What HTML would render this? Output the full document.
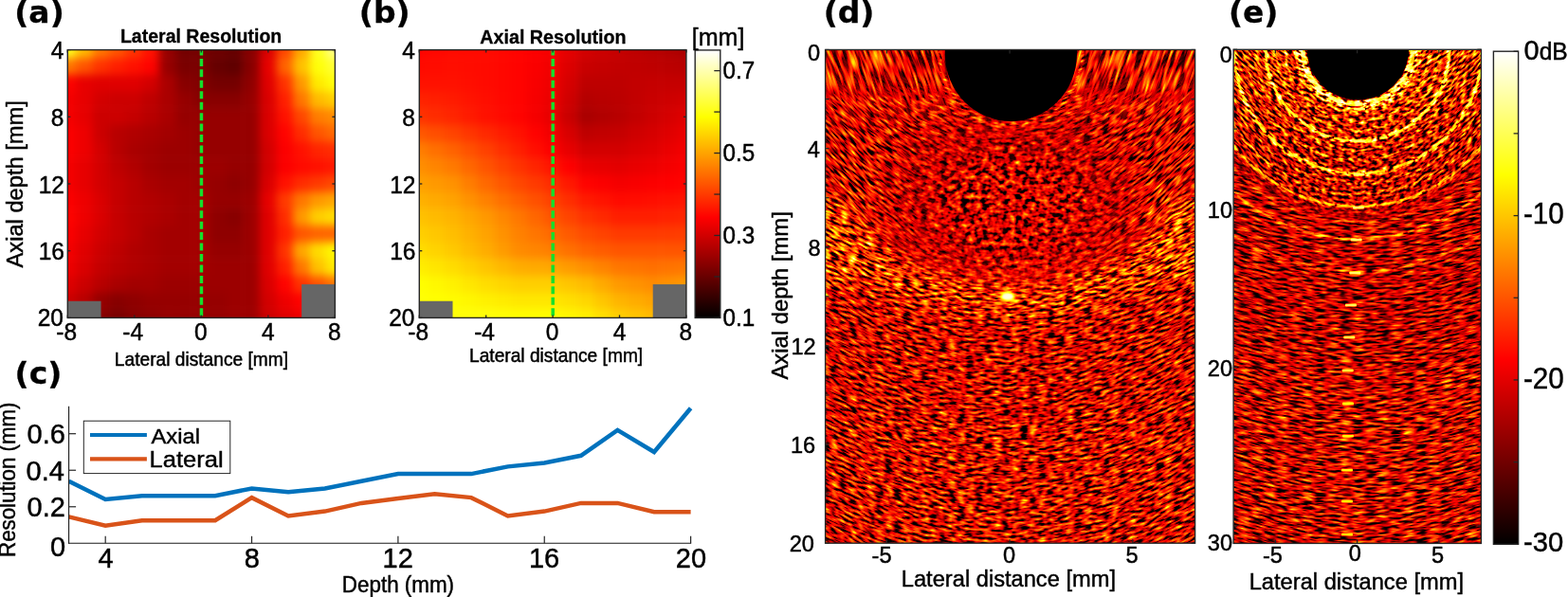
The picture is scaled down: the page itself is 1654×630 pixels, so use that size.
<!DOCTYPE html>
<html><head><meta charset="utf-8"><title>Resolution figure</title>
<style>html,body{margin:0;padding:0;background:#fff;overflow:hidden}svg{display:block}</style>
</head><body>
<svg width="1654" height="630" viewBox="0 0 1654 630"><defs><clipPath id="clipa"><rect x="71.30" y="52.60" width="282.10" height="282.80"/></clipPath><filter id="blura" x="31.30" y="12.60" width="362.10" height="362.80" filterUnits="userSpaceOnUse" color-interpolation-filters="sRGB"><feGaussianBlur stdDeviation="4.6"/></filter><clipPath id="clipb"><rect x="442.30" y="52.60" width="281.60" height="282.80"/></clipPath><filter id="blurb" x="402.30" y="12.60" width="361.60" height="362.80" filterUnits="userSpaceOnUse" color-interpolation-filters="sRGB"><feGaussianBlur stdDeviation="4.6"/></filter><linearGradient id="hotg" x1="0" y1="1" x2="0" y2="0"><stop offset="0" stop-color="#000"/><stop offset="0.375" stop-color="#f00"/><stop offset="0.75" stop-color="#ff0"/><stop offset="1" stop-color="#fff"/></linearGradient><clipPath id="clipc"><rect x="72.60" y="418.80" width="659.00" height="154.50"/></clipPath><filter id="bl8" x="-30%" y="-30%" width="160%" height="160%"><feGaussianBlur stdDeviation="14"/></filter><filter id="bl05" x="-50%" y="-50%" width="200%" height="200%"><feGaussianBlur stdDeviation="0.5"/></filter><filter id="bl1" x="-50%" y="-50%" width="200%" height="200%"><feGaussianBlur stdDeviation="0.8"/></filter><filter id="bl2" x="-50%" y="-50%" width="200%" height="200%"><feGaussianBlur stdDeviation="1.5"/></filter><filter id="fdB" x="770.6" y="-37.5" width="590.0" height="700.7" filterUnits="userSpaceOnUse" color-interpolation-filters="sRGB"><feTurbulence type="fractalNoise" baseFrequency="0.28 0.04" numOctaves="2" seed="5" result="t"/><feColorMatrix in="t" type="matrix" values="1 0 0 0 0 1 0 0 0 0 1 0 0 0 0 0 0 0 0 1" result="n"/><feComponentTransfer in="n" result="nc"><feFuncR type="table" tableValues="0 0 0 0 0 0 0.08 0.24 0.35 0.42 0.48 0.54 0.61 0.69 0.79 0.9 1"/><feFuncG type="table" tableValues="0 0 0 0 0 0 0.08 0.24 0.35 0.42 0.48 0.54 0.61 0.69 0.79 0.9 1"/><feFuncB type="table" tableValues="0 0 0 0 0 0 0.08 0.24 0.35 0.42 0.48 0.54 0.61 0.69 0.79 0.9 1"/></feComponentTransfer><feColorMatrix in="SourceGraphic" type="matrix" values="1 0 0 0 0 1 0 0 0 0 1 0 0 0 0 0 0 0 0 1" result="e"/><feComposite in="e" in2="nc" operator="arithmetic" k1="2.5" k2="0" k3="0" k4="0"/></filter><filter id="hmd" x="870.6" y="52.5" width="390.0" height="520.7" filterUnits="userSpaceOnUse" color-interpolation-filters="sRGB"><feComponentTransfer><feFuncR type="table" tableValues="0.000 0.083 0.167 0.250 0.333 0.417 0.500 0.583 0.667 0.750 0.833 0.917 1.000 1.000 1.000 1.000 1.000 1.000 1.000 1.000 1.000 1.000 1.000 1.000 1.000 1.000 1.000 1.000 1.000 1.000 1.000 1.000 1.000"/><feFuncG type="table" tableValues="0.000 0.000 0.000 0.000 0.000 0.000 0.000 0.000 0.000 0.000 0.000 0.000 0.000 0.083 0.167 0.250 0.333 0.417 0.500 0.583 0.667 0.750 0.833 0.917 1.000 1.000 1.000 1.000 1.000 1.000 1.000 1.000 1.000"/><feFuncB type="table" tableValues="0.000 0.000 0.000 0.000 0.000 0.000 0.000 0.000 0.000 0.000 0.000 0.000 0.000 0.000 0.000 0.000 0.000 0.000 0.000 0.000 0.000 0.000 0.000 0.000 0.000 0.125 0.250 0.375 0.500 0.625 0.750 0.875 1.000"/></feComponentTransfer></filter><clipPath id="clipd"><rect x="870.60" y="52.50" width="390.00" height="520.70"/></clipPath><linearGradient id="fadeInD" gradientUnits="userSpaceOnUse" x1="0" y1="52" x2="0" y2="140"><stop offset="0" stop-color="rgb(15,255,255)"/><stop offset="0.45" stop-color="rgb(50,255,255)"/><stop offset="1" stop-color="rgb(255,255,255)"/></linearGradient><g id="envd"><rect x="850.6" y="-137.5" width="430.0" height="900.7" fill="rgb(102,0,0)"/><g filter="url(#bl8)" style="mix-blend-mode:darken"><ellipse cx="1066.4" cy="205.0" rx="125" ry="90" fill="rgb(97,255,255)"/></g><rect x="850.6" y="-137.5" width="430.0" height="240.0" fill="url(#fadeInD)" style="mix-blend-mode:darken"/><g filter="url(#bl8)" style="mix-blend-mode:lighten"><circle cx="1066.4" cy="-38.0" r="350" fill="none" stroke="rgb(138,0,0)" stroke-width="34"/></g><g filter="url(#bl2)" style="mix-blend-mode:lighten"><ellipse cx="1066.4" cy="57.0" rx="75" ry="76" fill="none" stroke="rgb(128,0,0)" stroke-width="5"/></g><g filter="url(#bl8)" style="mix-blend-mode:lighten"><circle cx="875" cy="255" r="48" fill="rgb(140,0,0)"/><circle cx="1257" cy="250" r="48" fill="rgb(140,0,0)"/><rect x="870" y="440" width="392" height="140" fill="rgb(107,0,0)"/></g></g><radialGradient id="b1dg" gradientUnits="userSpaceOnUse" cx="1066.4" cy="57.0" r="247"><stop offset="0" stop-color="#fff"/><stop offset="0.9" stop-color="#fff"/><stop offset="1" stop-color="#000"/></radialGradient><mask id="band1d" maskUnits="userSpaceOnUse" x="870.6" y="52.5" width="390.0" height="520.7"><rect x="870.6" y="52.5" width="390.0" height="520.7" fill="url(#b1dg)"/></mask><filter id="sfd0" x="865.6" y="75.2" width="57.0" height="554.9" filterUnits="userSpaceOnUse" color-interpolation-filters="sRGB"><feTurbulence type="fractalNoise" baseFrequency="0.105 0.35" numOctaves="2" seed="11" result="t"/><feColorMatrix in="t" type="matrix" values="1 0 0 0 0 1 0 0 0 0 1 0 0 0 0 0 0 0 0 1" result="n"/><feComponentTransfer in="n" result="nc"><feFuncR type="table" tableValues="0 0 0 0 0 0 0.08 0.24 0.35 0.42 0.48 0.54 0.61 0.69 0.79 0.9 1"/><feFuncG type="table" tableValues="0 0 0 0 0 0 0.08 0.24 0.35 0.42 0.48 0.54 0.61 0.69 0.79 0.9 1"/><feFuncB type="table" tableValues="0 0 0 0 0 0 0.08 0.24 0.35 0.42 0.48 0.54 0.61 0.69 0.79 0.9 1"/></feComponentTransfer><feColorMatrix in="SourceGraphic" type="matrix" values="1 0 0 0 0 1 0 0 0 0 1 0 0 0 0 0 0 0 0 1" result="e"/><feComposite in="e" in2="nc" operator="arithmetic" k1="2.5" k2="0" k3="0" k4="0"/></filter><clipPath id="scd0"><rect x="869.60" y="52.50" width="49.50" height="520.70"/></clipPath><filter id="sfd1" x="914.6" y="59.3" width="57.0" height="548.6" filterUnits="userSpaceOnUse" color-interpolation-filters="sRGB"><feTurbulence type="fractalNoise" baseFrequency="0.105 0.35" numOctaves="2" seed="11" result="t"/><feColorMatrix in="t" type="matrix" values="1 0 0 0 0 1 0 0 0 0 1 0 0 0 0 0 0 0 0 1" result="n"/><feComponentTransfer in="n" result="nc"><feFuncR type="table" tableValues="0 0 0 0 0 0 0.08 0.24 0.35 0.42 0.48 0.54 0.61 0.69 0.79 0.9 1"/><feFuncG type="table" tableValues="0 0 0 0 0 0 0.08 0.24 0.35 0.42 0.48 0.54 0.61 0.69 0.79 0.9 1"/><feFuncB type="table" tableValues="0 0 0 0 0 0 0.08 0.24 0.35 0.42 0.48 0.54 0.61 0.69 0.79 0.9 1"/></feComponentTransfer><feColorMatrix in="SourceGraphic" type="matrix" values="1 0 0 0 0 1 0 0 0 0 1 0 0 0 0 0 0 0 0 1" result="e"/><feComposite in="e" in2="nc" operator="arithmetic" k1="2.5" k2="0" k3="0" k4="0"/></filter><clipPath id="scd1"><rect x="918.10" y="52.50" width="50.00" height="520.70"/></clipPath><filter id="sfd2" x="963.6" y="49.8" width="57.0" height="542.3" filterUnits="userSpaceOnUse" color-interpolation-filters="sRGB"><feTurbulence type="fractalNoise" baseFrequency="0.105 0.35" numOctaves="2" seed="11" result="t"/><feColorMatrix in="t" type="matrix" values="1 0 0 0 0 1 0 0 0 0 1 0 0 0 0 0 0 0 0 1" result="n"/><feComponentTransfer in="n" result="nc"><feFuncR type="table" tableValues="0 0 0 0 0 0 0.08 0.24 0.35 0.42 0.48 0.54 0.61 0.69 0.79 0.9 1"/><feFuncG type="table" tableValues="0 0 0 0 0 0 0.08 0.24 0.35 0.42 0.48 0.54 0.61 0.69 0.79 0.9 1"/><feFuncB type="table" tableValues="0 0 0 0 0 0 0.08 0.24 0.35 0.42 0.48 0.54 0.61 0.69 0.79 0.9 1"/></feComponentTransfer><feColorMatrix in="SourceGraphic" type="matrix" values="1 0 0 0 0 1 0 0 0 0 1 0 0 0 0 0 0 0 0 1" result="e"/><feComposite in="e" in2="nc" operator="arithmetic" k1="2.5" k2="0" k3="0" k4="0"/></filter><clipPath id="scd2"><rect x="967.10" y="52.50" width="50.00" height="520.70"/></clipPath><filter id="sfd3" x="1012.6" y="46.5" width="57.0" height="536.0" filterUnits="userSpaceOnUse" color-interpolation-filters="sRGB"><feTurbulence type="fractalNoise" baseFrequency="0.105 0.35" numOctaves="2" seed="11" result="t"/><feColorMatrix in="t" type="matrix" values="1 0 0 0 0 1 0 0 0 0 1 0 0 0 0 0 0 0 0 1" result="n"/><feComponentTransfer in="n" result="nc"><feFuncR type="table" tableValues="0 0 0 0 0 0 0.08 0.24 0.35 0.42 0.48 0.54 0.61 0.69 0.79 0.9 1"/><feFuncG type="table" tableValues="0 0 0 0 0 0 0.08 0.24 0.35 0.42 0.48 0.54 0.61 0.69 0.79 0.9 1"/><feFuncB type="table" tableValues="0 0 0 0 0 0 0.08 0.24 0.35 0.42 0.48 0.54 0.61 0.69 0.79 0.9 1"/></feComponentTransfer><feColorMatrix in="SourceGraphic" type="matrix" values="1 0 0 0 0 1 0 0 0 0 1 0 0 0 0 0 0 0 0 1" result="e"/><feComposite in="e" in2="nc" operator="arithmetic" k1="2.5" k2="0" k3="0" k4="0"/></filter><clipPath id="scd3"><rect x="1016.10" y="52.50" width="50.00" height="520.70"/></clipPath><filter id="sfd4" x="1061.6" y="46.5" width="57.0" height="535.8" filterUnits="userSpaceOnUse" color-interpolation-filters="sRGB"><feTurbulence type="fractalNoise" baseFrequency="0.105 0.35" numOctaves="2" seed="11" result="t"/><feColorMatrix in="t" type="matrix" values="1 0 0 0 0 1 0 0 0 0 1 0 0 0 0 0 0 0 0 1" result="n"/><feComponentTransfer in="n" result="nc"><feFuncR type="table" tableValues="0 0 0 0 0 0 0.08 0.24 0.35 0.42 0.48 0.54 0.61 0.69 0.79 0.9 1"/><feFuncG type="table" tableValues="0 0 0 0 0 0 0.08 0.24 0.35 0.42 0.48 0.54 0.61 0.69 0.79 0.9 1"/><feFuncB type="table" tableValues="0 0 0 0 0 0 0.08 0.24 0.35 0.42 0.48 0.54 0.61 0.69 0.79 0.9 1"/></feComponentTransfer><feColorMatrix in="SourceGraphic" type="matrix" values="1 0 0 0 0 1 0 0 0 0 1 0 0 0 0 0 0 0 0 1" result="e"/><feComposite in="e" in2="nc" operator="arithmetic" k1="2.5" k2="0" k3="0" k4="0"/></filter><clipPath id="scd4"><rect x="1065.10" y="52.50" width="50.00" height="520.70"/></clipPath><filter id="sfd5" x="1110.6" y="49.6" width="57.0" height="542.1" filterUnits="userSpaceOnUse" color-interpolation-filters="sRGB"><feTurbulence type="fractalNoise" baseFrequency="0.105 0.35" numOctaves="2" seed="11" result="t"/><feColorMatrix in="t" type="matrix" values="1 0 0 0 0 1 0 0 0 0 1 0 0 0 0 0 0 0 0 1" result="n"/><feComponentTransfer in="n" result="nc"><feFuncR type="table" tableValues="0 0 0 0 0 0 0.08 0.24 0.35 0.42 0.48 0.54 0.61 0.69 0.79 0.9 1"/><feFuncG type="table" tableValues="0 0 0 0 0 0 0.08 0.24 0.35 0.42 0.48 0.54 0.61 0.69 0.79 0.9 1"/><feFuncB type="table" tableValues="0 0 0 0 0 0 0.08 0.24 0.35 0.42 0.48 0.54 0.61 0.69 0.79 0.9 1"/></feComponentTransfer><feColorMatrix in="SourceGraphic" type="matrix" values="1 0 0 0 0 1 0 0 0 0 1 0 0 0 0 0 0 0 0 1" result="e"/><feComposite in="e" in2="nc" operator="arithmetic" k1="2.5" k2="0" k3="0" k4="0"/></filter><clipPath id="scd5"><rect x="1114.10" y="52.50" width="50.00" height="520.70"/></clipPath><filter id="sfd6" x="1159.6" y="58.9" width="57.0" height="548.4" filterUnits="userSpaceOnUse" color-interpolation-filters="sRGB"><feTurbulence type="fractalNoise" baseFrequency="0.105 0.35" numOctaves="2" seed="11" result="t"/><feColorMatrix in="t" type="matrix" values="1 0 0 0 0 1 0 0 0 0 1 0 0 0 0 0 0 0 0 1" result="n"/><feComponentTransfer in="n" result="nc"><feFuncR type="table" tableValues="0 0 0 0 0 0 0.08 0.24 0.35 0.42 0.48 0.54 0.61 0.69 0.79 0.9 1"/><feFuncG type="table" tableValues="0 0 0 0 0 0 0.08 0.24 0.35 0.42 0.48 0.54 0.61 0.69 0.79 0.9 1"/><feFuncB type="table" tableValues="0 0 0 0 0 0 0.08 0.24 0.35 0.42 0.48 0.54 0.61 0.69 0.79 0.9 1"/></feComponentTransfer><feColorMatrix in="SourceGraphic" type="matrix" values="1 0 0 0 0 1 0 0 0 0 1 0 0 0 0 0 0 0 0 1" result="e"/><feComposite in="e" in2="nc" operator="arithmetic" k1="2.5" k2="0" k3="0" k4="0"/></filter><clipPath id="scd6"><rect x="1163.10" y="52.50" width="50.00" height="520.70"/></clipPath><filter id="sfd7" x="1208.6" y="74.6" width="57.0" height="554.7" filterUnits="userSpaceOnUse" color-interpolation-filters="sRGB"><feTurbulence type="fractalNoise" baseFrequency="0.105 0.35" numOctaves="2" seed="11" result="t"/><feColorMatrix in="t" type="matrix" values="1 0 0 0 0 1 0 0 0 0 1 0 0 0 0 0 0 0 0 1" result="n"/><feComponentTransfer in="n" result="nc"><feFuncR type="table" tableValues="0 0 0 0 0 0 0.08 0.24 0.35 0.42 0.48 0.54 0.61 0.69 0.79 0.9 1"/><feFuncG type="table" tableValues="0 0 0 0 0 0 0.08 0.24 0.35 0.42 0.48 0.54 0.61 0.69 0.79 0.9 1"/><feFuncB type="table" tableValues="0 0 0 0 0 0 0.08 0.24 0.35 0.42 0.48 0.54 0.61 0.69 0.79 0.9 1"/></feComponentTransfer><feColorMatrix in="SourceGraphic" type="matrix" values="1 0 0 0 0 1 0 0 0 0 1 0 0 0 0 0 0 0 0 1" result="e"/><feComposite in="e" in2="nc" operator="arithmetic" k1="2.5" k2="0" k3="0" k4="0"/></filter><clipPath id="scd7"><rect x="1212.10" y="52.50" width="49.50" height="520.70"/></clipPath><filter id="sfD0" x="865.6" y="104.0" width="57.0" height="577.1" filterUnits="userSpaceOnUse" color-interpolation-filters="sRGB"><feTurbulence type="fractalNoise" baseFrequency="0.105 0.35" numOctaves="2" seed="13" result="t"/><feColorMatrix in="t" type="matrix" values="1 0 0 0 0 1 0 0 0 0 1 0 0 0 0 0 0 0 0 1" result="n"/><feComponentTransfer in="n" result="nc"><feFuncR type="table" tableValues="0 0 0 0 0 0 0.08 0.24 0.35 0.42 0.48 0.54 0.61 0.69 0.79 0.9 1"/><feFuncG type="table" tableValues="0 0 0 0 0 0 0.08 0.24 0.35 0.42 0.48 0.54 0.61 0.69 0.79 0.9 1"/><feFuncB type="table" tableValues="0 0 0 0 0 0 0.08 0.24 0.35 0.42 0.48 0.54 0.61 0.69 0.79 0.9 1"/></feComponentTransfer><feColorMatrix in="SourceGraphic" type="matrix" values="1 0 0 0 0 1 0 0 0 0 1 0 0 0 0 0 0 0 0 1" result="e"/><feComposite in="e" in2="nc" operator="arithmetic" k1="2.5" k2="0" k3="0" k4="0"/></filter><clipPath id="scD0"><rect x="869.60" y="52.50" width="49.50" height="520.70"/></clipPath><filter id="sfD1" x="914.6" y="72.2" width="57.0" height="564.5" filterUnits="userSpaceOnUse" color-interpolation-filters="sRGB"><feTurbulence type="fractalNoise" baseFrequency="0.105 0.35" numOctaves="2" seed="13" result="t"/><feColorMatrix in="t" type="matrix" values="1 0 0 0 0 1 0 0 0 0 1 0 0 0 0 0 0 0 0 1" result="n"/><feComponentTransfer in="n" result="nc"><feFuncR type="table" tableValues="0 0 0 0 0 0 0.08 0.24 0.35 0.42 0.48 0.54 0.61 0.69 0.79 0.9 1"/><feFuncG type="table" tableValues="0 0 0 0 0 0 0.08 0.24 0.35 0.42 0.48 0.54 0.61 0.69 0.79 0.9 1"/><feFuncB type="table" tableValues="0 0 0 0 0 0 0.08 0.24 0.35 0.42 0.48 0.54 0.61 0.69 0.79 0.9 1"/></feComponentTransfer><feColorMatrix in="SourceGraphic" type="matrix" values="1 0 0 0 0 1 0 0 0 0 1 0 0 0 0 0 0 0 0 1" result="e"/><feComposite in="e" in2="nc" operator="arithmetic" k1="2.5" k2="0" k3="0" k4="0"/></filter><clipPath id="scD1"><rect x="918.10" y="52.50" width="50.00" height="520.70"/></clipPath><filter id="sfD2" x="963.6" y="53.0" width="57.0" height="551.9" filterUnits="userSpaceOnUse" color-interpolation-filters="sRGB"><feTurbulence type="fractalNoise" baseFrequency="0.105 0.35" numOctaves="2" seed="13" result="t"/><feColorMatrix in="t" type="matrix" values="1 0 0 0 0 1 0 0 0 0 1 0 0 0 0 0 0 0 0 1" result="n"/><feComponentTransfer in="n" result="nc"><feFuncR type="table" tableValues="0 0 0 0 0 0 0.08 0.24 0.35 0.42 0.48 0.54 0.61 0.69 0.79 0.9 1"/><feFuncG type="table" tableValues="0 0 0 0 0 0 0.08 0.24 0.35 0.42 0.48 0.54 0.61 0.69 0.79 0.9 1"/><feFuncB type="table" tableValues="0 0 0 0 0 0 0.08 0.24 0.35 0.42 0.48 0.54 0.61 0.69 0.79 0.9 1"/></feComponentTransfer><feColorMatrix in="SourceGraphic" type="matrix" values="1 0 0 0 0 1 0 0 0 0 1 0 0 0 0 0 0 0 0 1" result="e"/><feComposite in="e" in2="nc" operator="arithmetic" k1="2.5" k2="0" k3="0" k4="0"/></filter><clipPath id="scD2"><rect x="967.10" y="52.50" width="50.00" height="520.70"/></clipPath><filter id="sfD3" x="1012.6" y="46.5" width="57.0" height="539.2" filterUnits="userSpaceOnUse" color-interpolation-filters="sRGB"><feTurbulence type="fractalNoise" baseFrequency="0.105 0.35" numOctaves="2" seed="13" result="t"/><feColorMatrix in="t" type="matrix" values="1 0 0 0 0 1 0 0 0 0 1 0 0 0 0 0 0 0 0 1" result="n"/><feComponentTransfer in="n" result="nc"><feFuncR type="table" tableValues="0 0 0 0 0 0 0.08 0.24 0.35 0.42 0.48 0.54 0.61 0.69 0.79 0.9 1"/><feFuncG type="table" tableValues="0 0 0 0 0 0 0.08 0.24 0.35 0.42 0.48 0.54 0.61 0.69 0.79 0.9 1"/><feFuncB type="table" tableValues="0 0 0 0 0 0 0.08 0.24 0.35 0.42 0.48 0.54 0.61 0.69 0.79 0.9 1"/></feComponentTransfer><feColorMatrix in="SourceGraphic" type="matrix" values="1 0 0 0 0 1 0 0 0 0 1 0 0 0 0 0 0 0 0 1" result="e"/><feComposite in="e" in2="nc" operator="arithmetic" k1="2.5" k2="0" k3="0" k4="0"/></filter><clipPath id="scD3"><rect x="1016.10" y="52.50" width="50.00" height="520.70"/></clipPath><filter id="sfD4" x="1061.6" y="46.5" width="57.0" height="538.8" filterUnits="userSpaceOnUse" color-interpolation-filters="sRGB"><feTurbulence type="fractalNoise" baseFrequency="0.105 0.35" numOctaves="2" seed="13" result="t"/><feColorMatrix in="t" type="matrix" values="1 0 0 0 0 1 0 0 0 0 1 0 0 0 0 0 0 0 0 1" result="n"/><feComponentTransfer in="n" result="nc"><feFuncR type="table" tableValues="0 0 0 0 0 0 0.08 0.24 0.35 0.42 0.48 0.54 0.61 0.69 0.79 0.9 1"/><feFuncG type="table" tableValues="0 0 0 0 0 0 0.08 0.24 0.35 0.42 0.48 0.54 0.61 0.69 0.79 0.9 1"/><feFuncB type="table" tableValues="0 0 0 0 0 0 0.08 0.24 0.35 0.42 0.48 0.54 0.61 0.69 0.79 0.9 1"/></feComponentTransfer><feColorMatrix in="SourceGraphic" type="matrix" values="1 0 0 0 0 1 0 0 0 0 1 0 0 0 0 0 0 0 0 1" result="e"/><feComposite in="e" in2="nc" operator="arithmetic" k1="2.5" k2="0" k3="0" k4="0"/></filter><clipPath id="scD4"><rect x="1065.10" y="52.50" width="50.00" height="520.70"/></clipPath><filter id="sfD5" x="1110.6" y="52.6" width="57.0" height="551.4" filterUnits="userSpaceOnUse" color-interpolation-filters="sRGB"><feTurbulence type="fractalNoise" baseFrequency="0.105 0.35" numOctaves="2" seed="13" result="t"/><feColorMatrix in="t" type="matrix" values="1 0 0 0 0 1 0 0 0 0 1 0 0 0 0 0 0 0 0 1" result="n"/><feComponentTransfer in="n" result="nc"><feFuncR type="table" tableValues="0 0 0 0 0 0 0.08 0.24 0.35 0.42 0.48 0.54 0.61 0.69 0.79 0.9 1"/><feFuncG type="table" tableValues="0 0 0 0 0 0 0.08 0.24 0.35 0.42 0.48 0.54 0.61 0.69 0.79 0.9 1"/><feFuncB type="table" tableValues="0 0 0 0 0 0 0.08 0.24 0.35 0.42 0.48 0.54 0.61 0.69 0.79 0.9 1"/></feComponentTransfer><feColorMatrix in="SourceGraphic" type="matrix" values="1 0 0 0 0 1 0 0 0 0 1 0 0 0 0 0 0 0 0 1" result="e"/><feComposite in="e" in2="nc" operator="arithmetic" k1="2.5" k2="0" k3="0" k4="0"/></filter><clipPath id="scD5"><rect x="1114.10" y="52.50" width="50.00" height="520.70"/></clipPath><filter id="sfD6" x="1159.6" y="71.4" width="57.0" height="564.1" filterUnits="userSpaceOnUse" color-interpolation-filters="sRGB"><feTurbulence type="fractalNoise" baseFrequency="0.105 0.35" numOctaves="2" seed="13" result="t"/><feColorMatrix in="t" type="matrix" values="1 0 0 0 0 1 0 0 0 0 1 0 0 0 0 0 0 0 0 1" result="n"/><feComponentTransfer in="n" result="nc"><feFuncR type="table" tableValues="0 0 0 0 0 0 0.08 0.24 0.35 0.42 0.48 0.54 0.61 0.69 0.79 0.9 1"/><feFuncG type="table" tableValues="0 0 0 0 0 0 0.08 0.24 0.35 0.42 0.48 0.54 0.61 0.69 0.79 0.9 1"/><feFuncB type="table" tableValues="0 0 0 0 0 0 0.08 0.24 0.35 0.42 0.48 0.54 0.61 0.69 0.79 0.9 1"/></feComponentTransfer><feColorMatrix in="SourceGraphic" type="matrix" values="1 0 0 0 0 1 0 0 0 0 1 0 0 0 0 0 0 0 0 1" result="e"/><feComposite in="e" in2="nc" operator="arithmetic" k1="2.5" k2="0" k3="0" k4="0"/></filter><clipPath id="scD6"><rect x="1163.10" y="52.50" width="50.00" height="520.70"/></clipPath><filter id="sfD7" x="1208.6" y="102.7" width="57.0" height="576.7" filterUnits="userSpaceOnUse" color-interpolation-filters="sRGB"><feTurbulence type="fractalNoise" baseFrequency="0.105 0.35" numOctaves="2" seed="13" result="t"/><feColorMatrix in="t" type="matrix" values="1 0 0 0 0 1 0 0 0 0 1 0 0 0 0 0 0 0 0 1" result="n"/><feComponentTransfer in="n" result="nc"><feFuncR type="table" tableValues="0 0 0 0 0 0 0.08 0.24 0.35 0.42 0.48 0.54 0.61 0.69 0.79 0.9 1"/><feFuncG type="table" tableValues="0 0 0 0 0 0 0.08 0.24 0.35 0.42 0.48 0.54 0.61 0.69 0.79 0.9 1"/><feFuncB type="table" tableValues="0 0 0 0 0 0 0.08 0.24 0.35 0.42 0.48 0.54 0.61 0.69 0.79 0.9 1"/></feComponentTransfer><feColorMatrix in="SourceGraphic" type="matrix" values="1 0 0 0 0 1 0 0 0 0 1 0 0 0 0 0 0 0 0 1" result="e"/><feComposite in="e" in2="nc" operator="arithmetic" k1="2.5" k2="0" k3="0" k4="0"/></filter><clipPath id="scD7"><rect x="1212.10" y="52.50" width="49.50" height="520.70"/></clipPath><filter id="fdM" x="910.0" y="100.0" width="315.0" height="250.0" filterUnits="userSpaceOnUse" color-interpolation-filters="sRGB"><feTurbulence type="fractalNoise" baseFrequency="0.14 0.2" numOctaves="2" seed="17" result="t"/><feColorMatrix in="t" type="matrix" values="1 0 0 0 0 1 0 0 0 0 1 0 0 0 0 0 0 0 0 1" result="n"/><feComponentTransfer in="n" result="nc"><feFuncR type="table" tableValues="0 0 0 0 0 0 0.08 0.24 0.35 0.42 0.48 0.54 0.61 0.69 0.79 0.9 1"/><feFuncG type="table" tableValues="0 0 0 0 0 0 0.08 0.24 0.35 0.42 0.48 0.54 0.61 0.69 0.79 0.9 1"/><feFuncB type="table" tableValues="0 0 0 0 0 0 0.08 0.24 0.35 0.42 0.48 0.54 0.61 0.69 0.79 0.9 1"/></feComponentTransfer><feColorMatrix in="SourceGraphic" type="matrix" values="1 0 0 0 0 1 0 0 0 0 1 0 0 0 0 0 0 0 0 1" result="e"/><feComposite in="e" in2="nc" operator="arithmetic" k1="2.5" k2="0" k3="0" k4="0"/></filter><radialGradient id="midg" gradientUnits="userSpaceOnUse" cx="1066.4" cy="215" r="150" gradientTransform="translate(1066.4,215) scale(1,0.7) translate(-1066.4,-215)"><stop offset="0" stop-color="#fff"/><stop offset="0.4" stop-color="#eee"/><stop offset="1" stop-color="#000"/></radialGradient><mask id="midD" maskUnits="userSpaceOnUse" x="910" y="100" width="315" height="250"><rect x="910" y="100" width="315" height="250" fill="url(#midg)"/></mask><linearGradient id="fadeOutD" gradientUnits="userSpaceOnUse" x1="0" y1="52" x2="0" y2="145"><stop offset="0" stop-color="rgb(112,0,0)"/><stop offset="0.4" stop-color="rgb(102,0,0)"/><stop offset="1" stop-color="rgb(0,0,0)"/></linearGradient><g id="envdB"><rect x="850.6" y="-37.5" width="430.0" height="700.7" fill="url(#fadeOutD)"/></g><clipPath id="sLd"><rect x="870.6" y="52.5" width="195.8" height="520.7"/></clipPath><clipPath id="sRd"><rect x="1066.4" y="52.5" width="194.2" height="520.7"/></clipPath><filter id="hme" x="1301.1" y="52.3" width="261.3" height="521.1" filterUnits="userSpaceOnUse" color-interpolation-filters="sRGB"><feComponentTransfer><feFuncR type="table" tableValues="0.000 0.083 0.167 0.250 0.333 0.417 0.500 0.583 0.667 0.750 0.833 0.917 1.000 1.000 1.000 1.000 1.000 1.000 1.000 1.000 1.000 1.000 1.000 1.000 1.000 1.000 1.000 1.000 1.000 1.000 1.000 1.000 1.000"/><feFuncG type="table" tableValues="0.000 0.000 0.000 0.000 0.000 0.000 0.000 0.000 0.000 0.000 0.000 0.000 0.000 0.083 0.167 0.250 0.333 0.417 0.500 0.583 0.667 0.750 0.833 0.917 1.000 1.000 1.000 1.000 1.000 1.000 1.000 1.000 1.000"/><feFuncB type="table" tableValues="0.000 0.000 0.000 0.000 0.000 0.000 0.000 0.000 0.000 0.000 0.000 0.000 0.000 0.000 0.000 0.000 0.000 0.000 0.000 0.000 0.000 0.000 0.000 0.000 0.000 0.125 0.250 0.375 0.500 0.625 0.750 0.875 1.000"/></feComponentTransfer></filter><clipPath id="clipe"><rect x="1301.10" y="52.30" width="261.30" height="521.10"/></clipPath><linearGradient id="topE" gradientUnits="userSpaceOnUse" x1="0" y1="52" x2="0" y2="160"><stop offset="0" stop-color="rgb(125,0,0)"/><stop offset="1" stop-color="rgb(94,0,0)"/></linearGradient><g id="enve"><rect x="1281.1" y="-107.7" width="301.3" height="841.1" fill="rgb(94,0,0)"/><rect x="1281.1" y="-7.7" width="301.3" height="220.0" fill="url(#topE)" style="mix-blend-mode:lighten"/><g filter="url(#bl8)" style="mix-blend-mode:lighten"><rect x="1300" y="380" width="265" height="200" fill="rgb(102,0,0)"/></g><g filter="url(#bl1)" style="mix-blend-mode:lighten"><circle cx="1432.4" cy="52.0" r="59" fill="none" stroke="rgb(242,0,0)" stroke-width="8"/><circle cx="1432.4" cy="52.0" r="66" fill="none" stroke="rgb(168,0,0)" stroke-width="4"/><circle cx="1432.4" cy="52.0" r="76" fill="none" stroke="rgb(163,0,0)" stroke-width="4"/><circle cx="1432.4" cy="52.0" r="86" fill="none" stroke="rgb(153,0,0)" stroke-width="4"/><circle cx="1432.4" cy="52.0" r="97" fill="none" stroke="rgb(199,0,0)" stroke-width="5"/><circle cx="1432.4" cy="52.0" r="106" fill="none" stroke="rgb(140,0,0)" stroke-width="4"/><circle cx="1432.4" cy="52.0" r="117" fill="none" stroke="rgb(140,0,0)" stroke-width="4"/><circle cx="1432.4" cy="52.0" r="131" fill="none" stroke="rgb(178,0,0)" stroke-width="5"/><circle cx="1432.4" cy="52.0" r="142" fill="none" stroke="rgb(133,0,0)" stroke-width="4"/><circle cx="1432.4" cy="52.0" r="153" fill="none" stroke="rgb(133,0,0)" stroke-width="4"/><circle cx="1432.4" cy="52.0" r="166" fill="none" stroke="rgb(153,0,0)" stroke-width="4"/><circle cx="1432.4" cy="52.0" r="183" fill="none" stroke="rgb(128,0,0)" stroke-width="3"/><circle cx="1432.4" cy="52.0" r="200" fill="none" stroke="rgb(138,0,0)" stroke-width="4"/><circle cx="1432.4" cy="52.0" r="235" fill="none" stroke="rgb(128,0,0)" stroke-width="3"/></g></g><radialGradient id="b1eg" gradientUnits="userSpaceOnUse" cx="1432.4" cy="52.0" r="185"><stop offset="0" stop-color="#fff"/><stop offset="0.88" stop-color="#fff"/><stop offset="1" stop-color="#000"/></radialGradient><mask id="band1e" maskUnits="userSpaceOnUse" x="1301.1" y="52.3" width="261.3" height="521.1"><rect x="1301.1" y="52.3" width="261.3" height="521.1" fill="url(#b1eg)"/></mask><filter id="sfe0" x="1296.1" y="55.0" width="51.9" height="543.9" filterUnits="userSpaceOnUse" color-interpolation-filters="sRGB"><feTurbulence type="fractalNoise" baseFrequency="0.075 0.42" numOctaves="2" seed="21" result="t"/><feColorMatrix in="t" type="matrix" values="1 0 0 0 0 1 0 0 0 0 1 0 0 0 0 0 0 0 0 1" result="n"/><feComponentTransfer in="n" result="nc"><feFuncR type="table" tableValues="0 0 0 0 0 0 0.04 0.2 0.34 0.42 0.49 0.56 0.63 0.71 0.8 0.9 1"/><feFuncG type="table" tableValues="0 0 0 0 0 0 0.04 0.2 0.34 0.42 0.49 0.56 0.63 0.71 0.8 0.9 1"/><feFuncB type="table" tableValues="0 0 0 0 0 0 0.04 0.2 0.34 0.42 0.49 0.56 0.63 0.71 0.8 0.9 1"/></feComponentTransfer><feColorMatrix in="SourceGraphic" type="matrix" values="1 0 0 0 0 1 0 0 0 0 1 0 0 0 0 0 0 0 0 1" result="e"/><feComposite in="e" in2="nc" operator="arithmetic" k1="2.5" k2="0" k3="0" k4="0"/></filter><clipPath id="sce0"><rect x="1300.10" y="52.30" width="44.38" height="521.10"/></clipPath><filter id="sfe1" x="1340.0" y="48.5" width="51.9" height="539.6" filterUnits="userSpaceOnUse" color-interpolation-filters="sRGB"><feTurbulence type="fractalNoise" baseFrequency="0.075 0.42" numOctaves="2" seed="21" result="t"/><feColorMatrix in="t" type="matrix" values="1 0 0 0 0 1 0 0 0 0 1 0 0 0 0 0 0 0 0 1" result="n"/><feComponentTransfer in="n" result="nc"><feFuncR type="table" tableValues="0 0 0 0 0 0 0.04 0.2 0.34 0.42 0.49 0.56 0.63 0.71 0.8 0.9 1"/><feFuncG type="table" tableValues="0 0 0 0 0 0 0.04 0.2 0.34 0.42 0.49 0.56 0.63 0.71 0.8 0.9 1"/><feFuncB type="table" tableValues="0 0 0 0 0 0 0.04 0.2 0.34 0.42 0.49 0.56 0.63 0.71 0.8 0.9 1"/></feComponentTransfer><feColorMatrix in="SourceGraphic" type="matrix" values="1 0 0 0 0 1 0 0 0 0 1 0 0 0 0 0 0 0 0 1" result="e"/><feComposite in="e" in2="nc" operator="arithmetic" k1="2.5" k2="0" k3="0" k4="0"/></filter><clipPath id="sce1"><rect x="1343.48" y="52.30" width="44.88" height="521.10"/></clipPath><filter id="sfe2" x="1383.9" y="46.3" width="51.9" height="535.3" filterUnits="userSpaceOnUse" color-interpolation-filters="sRGB"><feTurbulence type="fractalNoise" baseFrequency="0.075 0.42" numOctaves="2" seed="21" result="t"/><feColorMatrix in="t" type="matrix" values="1 0 0 0 0 1 0 0 0 0 1 0 0 0 0 0 0 0 0 1" result="n"/><feComponentTransfer in="n" result="nc"><feFuncR type="table" tableValues="0 0 0 0 0 0 0.04 0.2 0.34 0.42 0.49 0.56 0.63 0.71 0.8 0.9 1"/><feFuncG type="table" tableValues="0 0 0 0 0 0 0.04 0.2 0.34 0.42 0.49 0.56 0.63 0.71 0.8 0.9 1"/><feFuncB type="table" tableValues="0 0 0 0 0 0 0.04 0.2 0.34 0.42 0.49 0.56 0.63 0.71 0.8 0.9 1"/></feComponentTransfer><feColorMatrix in="SourceGraphic" type="matrix" values="1 0 0 0 0 1 0 0 0 0 1 0 0 0 0 0 0 0 0 1" result="e"/><feComposite in="e" in2="nc" operator="arithmetic" k1="2.5" k2="0" k3="0" k4="0"/></filter><clipPath id="sce2"><rect x="1387.37" y="52.30" width="44.88" height="521.10"/></clipPath><filter id="sfe3" x="1427.8" y="46.3" width="51.9" height="535.2" filterUnits="userSpaceOnUse" color-interpolation-filters="sRGB"><feTurbulence type="fractalNoise" baseFrequency="0.075 0.42" numOctaves="2" seed="21" result="t"/><feColorMatrix in="t" type="matrix" values="1 0 0 0 0 1 0 0 0 0 1 0 0 0 0 0 0 0 0 1" result="n"/><feComponentTransfer in="n" result="nc"><feFuncR type="table" tableValues="0 0 0 0 0 0 0.04 0.2 0.34 0.42 0.49 0.56 0.63 0.71 0.8 0.9 1"/><feFuncG type="table" tableValues="0 0 0 0 0 0 0.04 0.2 0.34 0.42 0.49 0.56 0.63 0.71 0.8 0.9 1"/><feFuncB type="table" tableValues="0 0 0 0 0 0 0.04 0.2 0.34 0.42 0.49 0.56 0.63 0.71 0.8 0.9 1"/></feComponentTransfer><feColorMatrix in="SourceGraphic" type="matrix" values="1 0 0 0 0 1 0 0 0 0 1 0 0 0 0 0 0 0 0 1" result="e"/><feComposite in="e" in2="nc" operator="arithmetic" k1="2.5" k2="0" k3="0" k4="0"/></filter><clipPath id="sce3"><rect x="1431.25" y="52.30" width="44.88" height="521.10"/></clipPath><filter id="sfe4" x="1471.6" y="48.4" width="51.9" height="539.5" filterUnits="userSpaceOnUse" color-interpolation-filters="sRGB"><feTurbulence type="fractalNoise" baseFrequency="0.075 0.42" numOctaves="2" seed="21" result="t"/><feColorMatrix in="t" type="matrix" values="1 0 0 0 0 1 0 0 0 0 1 0 0 0 0 0 0 0 0 1" result="n"/><feComponentTransfer in="n" result="nc"><feFuncR type="table" tableValues="0 0 0 0 0 0 0.04 0.2 0.34 0.42 0.49 0.56 0.63 0.71 0.8 0.9 1"/><feFuncG type="table" tableValues="0 0 0 0 0 0 0.04 0.2 0.34 0.42 0.49 0.56 0.63 0.71 0.8 0.9 1"/><feFuncB type="table" tableValues="0 0 0 0 0 0 0.04 0.2 0.34 0.42 0.49 0.56 0.63 0.71 0.8 0.9 1"/></feComponentTransfer><feColorMatrix in="SourceGraphic" type="matrix" values="1 0 0 0 0 1 0 0 0 0 1 0 0 0 0 0 0 0 0 1" result="e"/><feComposite in="e" in2="nc" operator="arithmetic" k1="2.5" k2="0" k3="0" k4="0"/></filter><clipPath id="sce4"><rect x="1475.13" y="52.30" width="44.88" height="521.10"/></clipPath><filter id="sfe5" x="1515.5" y="54.7" width="51.9" height="543.7" filterUnits="userSpaceOnUse" color-interpolation-filters="sRGB"><feTurbulence type="fractalNoise" baseFrequency="0.075 0.42" numOctaves="2" seed="21" result="t"/><feColorMatrix in="t" type="matrix" values="1 0 0 0 0 1 0 0 0 0 1 0 0 0 0 0 0 0 0 1" result="n"/><feComponentTransfer in="n" result="nc"><feFuncR type="table" tableValues="0 0 0 0 0 0 0.04 0.2 0.34 0.42 0.49 0.56 0.63 0.71 0.8 0.9 1"/><feFuncG type="table" tableValues="0 0 0 0 0 0 0.04 0.2 0.34 0.42 0.49 0.56 0.63 0.71 0.8 0.9 1"/><feFuncB type="table" tableValues="0 0 0 0 0 0 0.04 0.2 0.34 0.42 0.49 0.56 0.63 0.71 0.8 0.9 1"/></feComponentTransfer><feColorMatrix in="SourceGraphic" type="matrix" values="1 0 0 0 0 1 0 0 0 0 1 0 0 0 0 0 0 0 0 1" result="e"/><feComposite in="e" in2="nc" operator="arithmetic" k1="2.5" k2="0" k3="0" k4="0"/></filter><clipPath id="sce5"><rect x="1519.02" y="52.30" width="44.38" height="521.10"/></clipPath><filter id="sfE0" x="1296.1" y="81.6" width="40.9" height="560.3" filterUnits="userSpaceOnUse" color-interpolation-filters="sRGB"><feTurbulence type="fractalNoise" baseFrequency="0.17 0.34" numOctaves="2" seed="23" result="t"/><feColorMatrix in="t" type="matrix" values="1 0 0 0 0 1 0 0 0 0 1 0 0 0 0 0 0 0 0 1" result="n"/><feComponentTransfer in="n" result="nc"><feFuncR type="table" tableValues="0 0 0 0 0 0 0.04 0.2 0.34 0.42 0.49 0.56 0.63 0.71 0.8 0.9 1"/><feFuncG type="table" tableValues="0 0 0 0 0 0 0.04 0.2 0.34 0.42 0.49 0.56 0.63 0.71 0.8 0.9 1"/><feFuncB type="table" tableValues="0 0 0 0 0 0 0.04 0.2 0.34 0.42 0.49 0.56 0.63 0.71 0.8 0.9 1"/></feComponentTransfer><feColorMatrix in="SourceGraphic" type="matrix" values="1 0 0 0 0 1 0 0 0 0 1 0 0 0 0 0 0 0 0 1" result="e"/><feComposite in="e" in2="nc" operator="arithmetic" k1="2.5" k2="0" k3="0" k4="0"/></filter><clipPath id="scE0"><rect x="1300.10" y="52.30" width="33.41" height="521.10"/></clipPath><filter id="sfE1" x="1329.0" y="62.1" width="40.9" height="552.6" filterUnits="userSpaceOnUse" color-interpolation-filters="sRGB"><feTurbulence type="fractalNoise" baseFrequency="0.17 0.34" numOctaves="2" seed="23" result="t"/><feColorMatrix in="t" type="matrix" values="1 0 0 0 0 1 0 0 0 0 1 0 0 0 0 0 0 0 0 1" result="n"/><feComponentTransfer in="n" result="nc"><feFuncR type="table" tableValues="0 0 0 0 0 0 0.04 0.2 0.34 0.42 0.49 0.56 0.63 0.71 0.8 0.9 1"/><feFuncG type="table" tableValues="0 0 0 0 0 0 0.04 0.2 0.34 0.42 0.49 0.56 0.63 0.71 0.8 0.9 1"/><feFuncB type="table" tableValues="0 0 0 0 0 0 0.04 0.2 0.34 0.42 0.49 0.56 0.63 0.71 0.8 0.9 1"/></feComponentTransfer><feColorMatrix in="SourceGraphic" type="matrix" values="1 0 0 0 0 1 0 0 0 0 1 0 0 0 0 0 0 0 0 1" result="e"/><feComposite in="e" in2="nc" operator="arithmetic" k1="2.5" k2="0" k3="0" k4="0"/></filter><clipPath id="scE1"><rect x="1332.51" y="52.30" width="33.91" height="521.10"/></clipPath><filter id="sfE2" x="1361.9" y="50.3" width="40.9" height="544.9" filterUnits="userSpaceOnUse" color-interpolation-filters="sRGB"><feTurbulence type="fractalNoise" baseFrequency="0.17 0.34" numOctaves="2" seed="23" result="t"/><feColorMatrix in="t" type="matrix" values="1 0 0 0 0 1 0 0 0 0 1 0 0 0 0 0 0 0 0 1" result="n"/><feComponentTransfer in="n" result="nc"><feFuncR type="table" tableValues="0 0 0 0 0 0 0.04 0.2 0.34 0.42 0.49 0.56 0.63 0.71 0.8 0.9 1"/><feFuncG type="table" tableValues="0 0 0 0 0 0 0.04 0.2 0.34 0.42 0.49 0.56 0.63 0.71 0.8 0.9 1"/><feFuncB type="table" tableValues="0 0 0 0 0 0 0.04 0.2 0.34 0.42 0.49 0.56 0.63 0.71 0.8 0.9 1"/></feComponentTransfer><feColorMatrix in="SourceGraphic" type="matrix" values="1 0 0 0 0 1 0 0 0 0 1 0 0 0 0 0 0 0 0 1" result="e"/><feComposite in="e" in2="nc" operator="arithmetic" k1="2.5" k2="0" k3="0" k4="0"/></filter><clipPath id="scE2"><rect x="1365.42" y="52.30" width="33.91" height="521.10"/></clipPath><filter id="sfE3" x="1394.8" y="46.3" width="40.9" height="537.1" filterUnits="userSpaceOnUse" color-interpolation-filters="sRGB"><feTurbulence type="fractalNoise" baseFrequency="0.17 0.34" numOctaves="2" seed="23" result="t"/><feColorMatrix in="t" type="matrix" values="1 0 0 0 0 1 0 0 0 0 1 0 0 0 0 0 0 0 0 1" result="n"/><feComponentTransfer in="n" result="nc"><feFuncR type="table" tableValues="0 0 0 0 0 0 0.04 0.2 0.34 0.42 0.49 0.56 0.63 0.71 0.8 0.9 1"/><feFuncG type="table" tableValues="0 0 0 0 0 0 0.04 0.2 0.34 0.42 0.49 0.56 0.63 0.71 0.8 0.9 1"/><feFuncB type="table" tableValues="0 0 0 0 0 0 0.04 0.2 0.34 0.42 0.49 0.56 0.63 0.71 0.8 0.9 1"/></feComponentTransfer><feColorMatrix in="SourceGraphic" type="matrix" values="1 0 0 0 0 1 0 0 0 0 1 0 0 0 0 0 0 0 0 1" result="e"/><feComposite in="e" in2="nc" operator="arithmetic" k1="2.5" k2="0" k3="0" k4="0"/></filter><clipPath id="scE3"><rect x="1398.34" y="52.30" width="33.91" height="521.10"/></clipPath><filter id="sfE4" x="1427.8" y="46.3" width="40.9" height="536.8" filterUnits="userSpaceOnUse" color-interpolation-filters="sRGB"><feTurbulence type="fractalNoise" baseFrequency="0.17 0.34" numOctaves="2" seed="23" result="t"/><feColorMatrix in="t" type="matrix" values="1 0 0 0 0 1 0 0 0 0 1 0 0 0 0 0 0 0 0 1" result="n"/><feComponentTransfer in="n" result="nc"><feFuncR type="table" tableValues="0 0 0 0 0 0 0.04 0.2 0.34 0.42 0.49 0.56 0.63 0.71 0.8 0.9 1"/><feFuncG type="table" tableValues="0 0 0 0 0 0 0.04 0.2 0.34 0.42 0.49 0.56 0.63 0.71 0.8 0.9 1"/><feFuncB type="table" tableValues="0 0 0 0 0 0 0.04 0.2 0.34 0.42 0.49 0.56 0.63 0.71 0.8 0.9 1"/></feComponentTransfer><feColorMatrix in="SourceGraphic" type="matrix" values="1 0 0 0 0 1 0 0 0 0 1 0 0 0 0 0 0 0 0 1" result="e"/><feComposite in="e" in2="nc" operator="arithmetic" k1="2.5" k2="0" k3="0" k4="0"/></filter><clipPath id="scE4"><rect x="1431.25" y="52.30" width="33.91" height="521.10"/></clipPath><filter id="sfE5" x="1460.7" y="50.0" width="40.9" height="544.6" filterUnits="userSpaceOnUse" color-interpolation-filters="sRGB"><feTurbulence type="fractalNoise" baseFrequency="0.17 0.34" numOctaves="2" seed="23" result="t"/><feColorMatrix in="t" type="matrix" values="1 0 0 0 0 1 0 0 0 0 1 0 0 0 0 0 0 0 0 1" result="n"/><feComponentTransfer in="n" result="nc"><feFuncR type="table" tableValues="0 0 0 0 0 0 0.04 0.2 0.34 0.42 0.49 0.56 0.63 0.71 0.8 0.9 1"/><feFuncG type="table" tableValues="0 0 0 0 0 0 0.04 0.2 0.34 0.42 0.49 0.56 0.63 0.71 0.8 0.9 1"/><feFuncB type="table" tableValues="0 0 0 0 0 0 0.04 0.2 0.34 0.42 0.49 0.56 0.63 0.71 0.8 0.9 1"/></feComponentTransfer><feColorMatrix in="SourceGraphic" type="matrix" values="1 0 0 0 0 1 0 0 0 0 1 0 0 0 0 0 0 0 0 1" result="e"/><feComposite in="e" in2="nc" operator="arithmetic" k1="2.5" k2="0" k3="0" k4="0"/></filter><clipPath id="scE5"><rect x="1464.16" y="52.30" width="33.91" height="521.10"/></clipPath><filter id="sfE6" x="1493.6" y="61.5" width="40.9" height="552.3" filterUnits="userSpaceOnUse" color-interpolation-filters="sRGB"><feTurbulence type="fractalNoise" baseFrequency="0.17 0.34" numOctaves="2" seed="23" result="t"/><feColorMatrix in="t" type="matrix" values="1 0 0 0 0 1 0 0 0 0 1 0 0 0 0 0 0 0 0 1" result="n"/><feComponentTransfer in="n" result="nc"><feFuncR type="table" tableValues="0 0 0 0 0 0 0.04 0.2 0.34 0.42 0.49 0.56 0.63 0.71 0.8 0.9 1"/><feFuncG type="table" tableValues="0 0 0 0 0 0 0.04 0.2 0.34 0.42 0.49 0.56 0.63 0.71 0.8 0.9 1"/><feFuncB type="table" tableValues="0 0 0 0 0 0 0.04 0.2 0.34 0.42 0.49 0.56 0.63 0.71 0.8 0.9 1"/></feComponentTransfer><feColorMatrix in="SourceGraphic" type="matrix" values="1 0 0 0 0 1 0 0 0 0 1 0 0 0 0 0 0 0 0 1" result="e"/><feComposite in="e" in2="nc" operator="arithmetic" k1="2.5" k2="0" k3="0" k4="0"/></filter><clipPath id="scE6"><rect x="1497.08" y="52.30" width="33.91" height="521.10"/></clipPath><filter id="sfE7" x="1526.5" y="80.7" width="40.9" height="560.0" filterUnits="userSpaceOnUse" color-interpolation-filters="sRGB"><feTurbulence type="fractalNoise" baseFrequency="0.17 0.34" numOctaves="2" seed="23" result="t"/><feColorMatrix in="t" type="matrix" values="1 0 0 0 0 1 0 0 0 0 1 0 0 0 0 0 0 0 0 1" result="n"/><feComponentTransfer in="n" result="nc"><feFuncR type="table" tableValues="0 0 0 0 0 0 0.04 0.2 0.34 0.42 0.49 0.56 0.63 0.71 0.8 0.9 1"/><feFuncG type="table" tableValues="0 0 0 0 0 0 0.04 0.2 0.34 0.42 0.49 0.56 0.63 0.71 0.8 0.9 1"/><feFuncB type="table" tableValues="0 0 0 0 0 0 0.04 0.2 0.34 0.42 0.49 0.56 0.63 0.71 0.8 0.9 1"/></feComponentTransfer><feColorMatrix in="SourceGraphic" type="matrix" values="1 0 0 0 0 1 0 0 0 0 1 0 0 0 0 0 0 0 0 1" result="e"/><feComposite in="e" in2="nc" operator="arithmetic" k1="2.5" k2="0" k3="0" k4="0"/></filter><clipPath id="scE7"><rect x="1529.99" y="52.30" width="33.41" height="521.10"/></clipPath></defs><rect x="0" y="0" width="1654" height="630" fill="#fff"/>
<g clip-path="url(#clipa)"><g filter="url(#blura)">
<rect x="26.92" y="8.11" width="18.23" height="18.27" fill="#ffff1f"/>
<rect x="44.55" y="8.11" width="18.23" height="18.27" fill="#ffff1f"/>
<rect x="62.18" y="8.11" width="18.23" height="18.27" fill="#ffff1f"/>
<rect x="79.82" y="8.11" width="18.23" height="18.27" fill="#ffbb00"/>
<rect x="97.45" y="8.11" width="18.23" height="18.27" fill="#ff7700"/>
<rect x="115.08" y="8.11" width="18.23" height="18.27" fill="#ff5500"/>
<rect x="132.71" y="8.11" width="18.23" height="18.27" fill="#ff3300"/>
<rect x="150.34" y="8.11" width="18.23" height="18.27" fill="#ff1100"/>
<rect x="167.97" y="8.11" width="18.23" height="18.27" fill="#960000"/>
<rect x="185.60" y="8.11" width="18.23" height="18.27" fill="#740000"/>
<rect x="203.23" y="8.11" width="18.23" height="18.27" fill="#740000"/>
<rect x="220.87" y="8.11" width="18.23" height="18.27" fill="#6d0000"/>
<rect x="238.50" y="8.11" width="18.23" height="18.27" fill="#660000"/>
<rect x="256.13" y="8.11" width="18.23" height="18.27" fill="#880000"/>
<rect x="273.76" y="8.11" width="18.23" height="18.27" fill="#da0000"/>
<rect x="291.39" y="8.11" width="18.23" height="18.27" fill="#ff4700"/>
<rect x="309.02" y="8.11" width="18.23" height="18.27" fill="#ffa700"/>
<rect x="326.65" y="8.11" width="18.23" height="18.27" fill="#ffff1f"/>
<rect x="344.28" y="8.11" width="18.23" height="18.27" fill="#ffff85"/>
<rect x="361.92" y="8.11" width="18.23" height="18.27" fill="#ffff85"/>
<rect x="379.55" y="8.11" width="18.23" height="18.27" fill="#ffff85"/>
<rect x="26.92" y="25.79" width="18.23" height="18.27" fill="#ffff1f"/>
<rect x="44.55" y="25.79" width="18.23" height="18.27" fill="#ffff1f"/>
<rect x="62.18" y="25.79" width="18.23" height="18.27" fill="#ffff1f"/>
<rect x="79.82" y="25.79" width="18.23" height="18.27" fill="#ffbb00"/>
<rect x="97.45" y="25.79" width="18.23" height="18.27" fill="#ff7700"/>
<rect x="115.08" y="25.79" width="18.23" height="18.27" fill="#ff5500"/>
<rect x="132.71" y="25.79" width="18.23" height="18.27" fill="#ff3300"/>
<rect x="150.34" y="25.79" width="18.23" height="18.27" fill="#ff1100"/>
<rect x="167.97" y="25.79" width="18.23" height="18.27" fill="#960000"/>
<rect x="185.60" y="25.79" width="18.23" height="18.27" fill="#740000"/>
<rect x="203.23" y="25.79" width="18.23" height="18.27" fill="#740000"/>
<rect x="220.87" y="25.79" width="18.23" height="18.27" fill="#6d0000"/>
<rect x="238.50" y="25.79" width="18.23" height="18.27" fill="#660000"/>
<rect x="256.13" y="25.79" width="18.23" height="18.27" fill="#880000"/>
<rect x="273.76" y="25.79" width="18.23" height="18.27" fill="#da0000"/>
<rect x="291.39" y="25.79" width="18.23" height="18.27" fill="#ff4700"/>
<rect x="309.02" y="25.79" width="18.23" height="18.27" fill="#ffa700"/>
<rect x="326.65" y="25.79" width="18.23" height="18.27" fill="#ffff1f"/>
<rect x="344.28" y="25.79" width="18.23" height="18.27" fill="#ffff85"/>
<rect x="361.92" y="25.79" width="18.23" height="18.27" fill="#ffff85"/>
<rect x="379.55" y="25.79" width="18.23" height="18.27" fill="#ffff85"/>
<rect x="26.92" y="43.46" width="18.23" height="18.27" fill="#ffff1f"/>
<rect x="44.55" y="43.46" width="18.23" height="18.27" fill="#ffff1f"/>
<rect x="62.18" y="43.46" width="18.23" height="18.27" fill="#ffff1f"/>
<rect x="79.82" y="43.46" width="18.23" height="18.27" fill="#ffbb00"/>
<rect x="97.45" y="43.46" width="18.23" height="18.27" fill="#ff7700"/>
<rect x="115.08" y="43.46" width="18.23" height="18.27" fill="#ff5500"/>
<rect x="132.71" y="43.46" width="18.23" height="18.27" fill="#ff3300"/>
<rect x="150.34" y="43.46" width="18.23" height="18.27" fill="#ff1100"/>
<rect x="167.97" y="43.46" width="18.23" height="18.27" fill="#960000"/>
<rect x="185.60" y="43.46" width="18.23" height="18.27" fill="#740000"/>
<rect x="203.23" y="43.46" width="18.23" height="18.27" fill="#740000"/>
<rect x="220.87" y="43.46" width="18.23" height="18.27" fill="#6d0000"/>
<rect x="238.50" y="43.46" width="18.23" height="18.27" fill="#660000"/>
<rect x="256.13" y="43.46" width="18.23" height="18.27" fill="#880000"/>
<rect x="273.76" y="43.46" width="18.23" height="18.27" fill="#da0000"/>
<rect x="291.39" y="43.46" width="18.23" height="18.27" fill="#ff4700"/>
<rect x="309.02" y="43.46" width="18.23" height="18.27" fill="#ffa700"/>
<rect x="326.65" y="43.46" width="18.23" height="18.27" fill="#ffff1f"/>
<rect x="344.28" y="43.46" width="18.23" height="18.27" fill="#ffff85"/>
<rect x="361.92" y="43.46" width="18.23" height="18.27" fill="#ffff85"/>
<rect x="379.55" y="43.46" width="18.23" height="18.27" fill="#ffff85"/>
<rect x="26.92" y="61.14" width="18.23" height="18.27" fill="#ff7700"/>
<rect x="44.55" y="61.14" width="18.23" height="18.27" fill="#ff7700"/>
<rect x="62.18" y="61.14" width="18.23" height="18.27" fill="#ff7700"/>
<rect x="79.82" y="61.14" width="18.23" height="18.27" fill="#ff5500"/>
<rect x="97.45" y="61.14" width="18.23" height="18.27" fill="#ff3300"/>
<rect x="115.08" y="61.14" width="18.23" height="18.27" fill="#ff1f00"/>
<rect x="132.71" y="61.14" width="18.23" height="18.27" fill="#ff1100"/>
<rect x="150.34" y="61.14" width="18.23" height="18.27" fill="#ff0300"/>
<rect x="167.97" y="61.14" width="18.23" height="18.27" fill="#960000"/>
<rect x="185.60" y="61.14" width="18.23" height="18.27" fill="#7a0000"/>
<rect x="203.23" y="61.14" width="18.23" height="18.27" fill="#7a0000"/>
<rect x="220.87" y="61.14" width="18.23" height="18.27" fill="#660000"/>
<rect x="238.50" y="61.14" width="18.23" height="18.27" fill="#5f0000"/>
<rect x="256.13" y="61.14" width="18.23" height="18.27" fill="#880000"/>
<rect x="273.76" y="61.14" width="18.23" height="18.27" fill="#e70000"/>
<rect x="291.39" y="61.14" width="18.23" height="18.27" fill="#ff6300"/>
<rect x="309.02" y="61.14" width="18.23" height="18.27" fill="#ffc200"/>
<rect x="326.65" y="61.14" width="18.23" height="18.27" fill="#ffff0a"/>
<rect x="344.28" y="61.14" width="18.23" height="18.27" fill="#ffff33"/>
<rect x="361.92" y="61.14" width="18.23" height="18.27" fill="#ffff33"/>
<rect x="379.55" y="61.14" width="18.23" height="18.27" fill="#ffff33"/>
<rect x="26.92" y="78.81" width="18.23" height="18.27" fill="#ff0300"/>
<rect x="44.55" y="78.81" width="18.23" height="18.27" fill="#ff0300"/>
<rect x="62.18" y="78.81" width="18.23" height="18.27" fill="#ff0300"/>
<rect x="79.82" y="78.81" width="18.23" height="18.27" fill="#e70000"/>
<rect x="97.45" y="78.81" width="18.23" height="18.27" fill="#e00000"/>
<rect x="115.08" y="78.81" width="18.23" height="18.27" fill="#e00000"/>
<rect x="132.71" y="78.81" width="18.23" height="18.27" fill="#e00000"/>
<rect x="150.34" y="78.81" width="18.23" height="18.27" fill="#d30000"/>
<rect x="167.97" y="78.81" width="18.23" height="18.27" fill="#aa0000"/>
<rect x="185.60" y="78.81" width="18.23" height="18.27" fill="#880000"/>
<rect x="203.23" y="78.81" width="18.23" height="18.27" fill="#810000"/>
<rect x="220.87" y="78.81" width="18.23" height="18.27" fill="#740000"/>
<rect x="238.50" y="78.81" width="18.23" height="18.27" fill="#740000"/>
<rect x="256.13" y="78.81" width="18.23" height="18.27" fill="#8f0000"/>
<rect x="273.76" y="78.81" width="18.23" height="18.27" fill="#e00000"/>
<rect x="291.39" y="78.81" width="18.23" height="18.27" fill="#ff3300"/>
<rect x="309.02" y="78.81" width="18.23" height="18.27" fill="#ff9900"/>
<rect x="326.65" y="78.81" width="18.23" height="18.27" fill="#ffeb00"/>
<rect x="344.28" y="78.81" width="18.23" height="18.27" fill="#ffff0a"/>
<rect x="361.92" y="78.81" width="18.23" height="18.27" fill="#ffff0a"/>
<rect x="379.55" y="78.81" width="18.23" height="18.27" fill="#ffff0a"/>
<rect x="26.92" y="96.49" width="18.23" height="18.27" fill="#f50000"/>
<rect x="44.55" y="96.49" width="18.23" height="18.27" fill="#f50000"/>
<rect x="62.18" y="96.49" width="18.23" height="18.27" fill="#f50000"/>
<rect x="79.82" y="96.49" width="18.23" height="18.27" fill="#e70000"/>
<rect x="97.45" y="96.49" width="18.23" height="18.27" fill="#d30000"/>
<rect x="115.08" y="96.49" width="18.23" height="18.27" fill="#cc0000"/>
<rect x="132.71" y="96.49" width="18.23" height="18.27" fill="#cc0000"/>
<rect x="150.34" y="96.49" width="18.23" height="18.27" fill="#be0000"/>
<rect x="167.97" y="96.49" width="18.23" height="18.27" fill="#aa0000"/>
<rect x="185.60" y="96.49" width="18.23" height="18.27" fill="#960000"/>
<rect x="203.23" y="96.49" width="18.23" height="18.27" fill="#880000"/>
<rect x="220.87" y="96.49" width="18.23" height="18.27" fill="#880000"/>
<rect x="238.50" y="96.49" width="18.23" height="18.27" fill="#880000"/>
<rect x="256.13" y="96.49" width="18.23" height="18.27" fill="#960000"/>
<rect x="273.76" y="96.49" width="18.23" height="18.27" fill="#da0000"/>
<rect x="291.39" y="96.49" width="18.23" height="18.27" fill="#ff1f00"/>
<rect x="309.02" y="96.49" width="18.23" height="18.27" fill="#ff7700"/>
<rect x="326.65" y="96.49" width="18.23" height="18.27" fill="#ffbb00"/>
<rect x="344.28" y="96.49" width="18.23" height="18.27" fill="#ffcf00"/>
<rect x="361.92" y="96.49" width="18.23" height="18.27" fill="#ffcf00"/>
<rect x="379.55" y="96.49" width="18.23" height="18.27" fill="#ffcf00"/>
<rect x="26.92" y="114.16" width="18.23" height="18.27" fill="#f50000"/>
<rect x="44.55" y="114.16" width="18.23" height="18.27" fill="#f50000"/>
<rect x="62.18" y="114.16" width="18.23" height="18.27" fill="#f50000"/>
<rect x="79.82" y="114.16" width="18.23" height="18.27" fill="#e70000"/>
<rect x="97.45" y="114.16" width="18.23" height="18.27" fill="#cc0000"/>
<rect x="115.08" y="114.16" width="18.23" height="18.27" fill="#cc0000"/>
<rect x="132.71" y="114.16" width="18.23" height="18.27" fill="#c50000"/>
<rect x="150.34" y="114.16" width="18.23" height="18.27" fill="#b80000"/>
<rect x="167.97" y="114.16" width="18.23" height="18.27" fill="#aa0000"/>
<rect x="185.60" y="114.16" width="18.23" height="18.27" fill="#960000"/>
<rect x="203.23" y="114.16" width="18.23" height="18.27" fill="#960000"/>
<rect x="220.87" y="114.16" width="18.23" height="18.27" fill="#960000"/>
<rect x="238.50" y="114.16" width="18.23" height="18.27" fill="#960000"/>
<rect x="256.13" y="114.16" width="18.23" height="18.27" fill="#960000"/>
<rect x="273.76" y="114.16" width="18.23" height="18.27" fill="#da0000"/>
<rect x="291.39" y="114.16" width="18.23" height="18.27" fill="#ff1100"/>
<rect x="309.02" y="114.16" width="18.23" height="18.27" fill="#ff4700"/>
<rect x="326.65" y="114.16" width="18.23" height="18.27" fill="#ff7e00"/>
<rect x="344.28" y="114.16" width="18.23" height="18.27" fill="#ff8b00"/>
<rect x="361.92" y="114.16" width="18.23" height="18.27" fill="#ff8b00"/>
<rect x="379.55" y="114.16" width="18.23" height="18.27" fill="#ff8b00"/>
<rect x="26.92" y="131.84" width="18.23" height="18.27" fill="#fc0000"/>
<rect x="44.55" y="131.84" width="18.23" height="18.27" fill="#fc0000"/>
<rect x="62.18" y="131.84" width="18.23" height="18.27" fill="#fc0000"/>
<rect x="79.82" y="131.84" width="18.23" height="18.27" fill="#ee0000"/>
<rect x="97.45" y="131.84" width="18.23" height="18.27" fill="#cc0000"/>
<rect x="115.08" y="131.84" width="18.23" height="18.27" fill="#b80000"/>
<rect x="132.71" y="131.84" width="18.23" height="18.27" fill="#b10000"/>
<rect x="150.34" y="131.84" width="18.23" height="18.27" fill="#aa0000"/>
<rect x="167.97" y="131.84" width="18.23" height="18.27" fill="#a30000"/>
<rect x="185.60" y="131.84" width="18.23" height="18.27" fill="#9c0000"/>
<rect x="203.23" y="131.84" width="18.23" height="18.27" fill="#960000"/>
<rect x="220.87" y="131.84" width="18.23" height="18.27" fill="#960000"/>
<rect x="238.50" y="131.84" width="18.23" height="18.27" fill="#960000"/>
<rect x="256.13" y="131.84" width="18.23" height="18.27" fill="#960000"/>
<rect x="273.76" y="131.84" width="18.23" height="18.27" fill="#da0000"/>
<rect x="291.39" y="131.84" width="18.23" height="18.27" fill="#ff0300"/>
<rect x="309.02" y="131.84" width="18.23" height="18.27" fill="#ff2c00"/>
<rect x="326.65" y="131.84" width="18.23" height="18.27" fill="#ff5500"/>
<rect x="344.28" y="131.84" width="18.23" height="18.27" fill="#ff6900"/>
<rect x="361.92" y="131.84" width="18.23" height="18.27" fill="#ff6900"/>
<rect x="379.55" y="131.84" width="18.23" height="18.27" fill="#ff6900"/>
<rect x="26.92" y="149.51" width="18.23" height="18.27" fill="#fc0000"/>
<rect x="44.55" y="149.51" width="18.23" height="18.27" fill="#fc0000"/>
<rect x="62.18" y="149.51" width="18.23" height="18.27" fill="#fc0000"/>
<rect x="79.82" y="149.51" width="18.23" height="18.27" fill="#ee0000"/>
<rect x="97.45" y="149.51" width="18.23" height="18.27" fill="#d30000"/>
<rect x="115.08" y="149.51" width="18.23" height="18.27" fill="#b80000"/>
<rect x="132.71" y="149.51" width="18.23" height="18.27" fill="#aa0000"/>
<rect x="150.34" y="149.51" width="18.23" height="18.27" fill="#a30000"/>
<rect x="167.97" y="149.51" width="18.23" height="18.27" fill="#9c0000"/>
<rect x="185.60" y="149.51" width="18.23" height="18.27" fill="#9c0000"/>
<rect x="203.23" y="149.51" width="18.23" height="18.27" fill="#960000"/>
<rect x="220.87" y="149.51" width="18.23" height="18.27" fill="#960000"/>
<rect x="238.50" y="149.51" width="18.23" height="18.27" fill="#960000"/>
<rect x="256.13" y="149.51" width="18.23" height="18.27" fill="#960000"/>
<rect x="273.76" y="149.51" width="18.23" height="18.27" fill="#d30000"/>
<rect x="291.39" y="149.51" width="18.23" height="18.27" fill="#fc0000"/>
<rect x="309.02" y="149.51" width="18.23" height="18.27" fill="#ff1100"/>
<rect x="326.65" y="149.51" width="18.23" height="18.27" fill="#ff2500"/>
<rect x="344.28" y="149.51" width="18.23" height="18.27" fill="#ff2c00"/>
<rect x="361.92" y="149.51" width="18.23" height="18.27" fill="#ff2c00"/>
<rect x="379.55" y="149.51" width="18.23" height="18.27" fill="#ff2c00"/>
<rect x="26.92" y="167.19" width="18.23" height="18.27" fill="#f50000"/>
<rect x="44.55" y="167.19" width="18.23" height="18.27" fill="#f50000"/>
<rect x="62.18" y="167.19" width="18.23" height="18.27" fill="#f50000"/>
<rect x="79.82" y="167.19" width="18.23" height="18.27" fill="#e70000"/>
<rect x="97.45" y="167.19" width="18.23" height="18.27" fill="#d30000"/>
<rect x="115.08" y="167.19" width="18.23" height="18.27" fill="#be0000"/>
<rect x="132.71" y="167.19" width="18.23" height="18.27" fill="#b10000"/>
<rect x="150.34" y="167.19" width="18.23" height="18.27" fill="#a30000"/>
<rect x="167.97" y="167.19" width="18.23" height="18.27" fill="#9c0000"/>
<rect x="185.60" y="167.19" width="18.23" height="18.27" fill="#9c0000"/>
<rect x="203.23" y="167.19" width="18.23" height="18.27" fill="#9c0000"/>
<rect x="220.87" y="167.19" width="18.23" height="18.27" fill="#9c0000"/>
<rect x="238.50" y="167.19" width="18.23" height="18.27" fill="#960000"/>
<rect x="256.13" y="167.19" width="18.23" height="18.27" fill="#960000"/>
<rect x="273.76" y="167.19" width="18.23" height="18.27" fill="#d30000"/>
<rect x="291.39" y="167.19" width="18.23" height="18.27" fill="#fc0000"/>
<rect x="309.02" y="167.19" width="18.23" height="18.27" fill="#ff0a00"/>
<rect x="326.65" y="167.19" width="18.23" height="18.27" fill="#ff1100"/>
<rect x="344.28" y="167.19" width="18.23" height="18.27" fill="#ff1800"/>
<rect x="361.92" y="167.19" width="18.23" height="18.27" fill="#ff1800"/>
<rect x="379.55" y="167.19" width="18.23" height="18.27" fill="#ff1800"/>
<rect x="26.92" y="184.86" width="18.23" height="18.27" fill="#f50000"/>
<rect x="44.55" y="184.86" width="18.23" height="18.27" fill="#f50000"/>
<rect x="62.18" y="184.86" width="18.23" height="18.27" fill="#f50000"/>
<rect x="79.82" y="184.86" width="18.23" height="18.27" fill="#e70000"/>
<rect x="97.45" y="184.86" width="18.23" height="18.27" fill="#d30000"/>
<rect x="115.08" y="184.86" width="18.23" height="18.27" fill="#c50000"/>
<rect x="132.71" y="184.86" width="18.23" height="18.27" fill="#b80000"/>
<rect x="150.34" y="184.86" width="18.23" height="18.27" fill="#aa0000"/>
<rect x="167.97" y="184.86" width="18.23" height="18.27" fill="#a30000"/>
<rect x="185.60" y="184.86" width="18.23" height="18.27" fill="#a30000"/>
<rect x="203.23" y="184.86" width="18.23" height="18.27" fill="#9c0000"/>
<rect x="220.87" y="184.86" width="18.23" height="18.27" fill="#960000"/>
<rect x="238.50" y="184.86" width="18.23" height="18.27" fill="#8f0000"/>
<rect x="256.13" y="184.86" width="18.23" height="18.27" fill="#960000"/>
<rect x="273.76" y="184.86" width="18.23" height="18.27" fill="#da0000"/>
<rect x="291.39" y="184.86" width="18.23" height="18.27" fill="#ff1100"/>
<rect x="309.02" y="184.86" width="18.23" height="18.27" fill="#ff2c00"/>
<rect x="326.65" y="184.86" width="18.23" height="18.27" fill="#ff3a00"/>
<rect x="344.28" y="184.86" width="18.23" height="18.27" fill="#ff4700"/>
<rect x="361.92" y="184.86" width="18.23" height="18.27" fill="#ff4700"/>
<rect x="379.55" y="184.86" width="18.23" height="18.27" fill="#ff4700"/>
<rect x="26.92" y="202.54" width="18.23" height="18.27" fill="#fc0000"/>
<rect x="44.55" y="202.54" width="18.23" height="18.27" fill="#fc0000"/>
<rect x="62.18" y="202.54" width="18.23" height="18.27" fill="#fc0000"/>
<rect x="79.82" y="202.54" width="18.23" height="18.27" fill="#ee0000"/>
<rect x="97.45" y="202.54" width="18.23" height="18.27" fill="#da0000"/>
<rect x="115.08" y="202.54" width="18.23" height="18.27" fill="#c50000"/>
<rect x="132.71" y="202.54" width="18.23" height="18.27" fill="#b80000"/>
<rect x="150.34" y="202.54" width="18.23" height="18.27" fill="#b10000"/>
<rect x="167.97" y="202.54" width="18.23" height="18.27" fill="#aa0000"/>
<rect x="185.60" y="202.54" width="18.23" height="18.27" fill="#a30000"/>
<rect x="203.23" y="202.54" width="18.23" height="18.27" fill="#a30000"/>
<rect x="220.87" y="202.54" width="18.23" height="18.27" fill="#960000"/>
<rect x="238.50" y="202.54" width="18.23" height="18.27" fill="#960000"/>
<rect x="256.13" y="202.54" width="18.23" height="18.27" fill="#9c0000"/>
<rect x="273.76" y="202.54" width="18.23" height="18.27" fill="#e70000"/>
<rect x="291.39" y="202.54" width="18.23" height="18.27" fill="#ff3a00"/>
<rect x="309.02" y="202.54" width="18.23" height="18.27" fill="#ff7700"/>
<rect x="326.65" y="202.54" width="18.23" height="18.27" fill="#ff9900"/>
<rect x="344.28" y="202.54" width="18.23" height="18.27" fill="#ffa700"/>
<rect x="361.92" y="202.54" width="18.23" height="18.27" fill="#ffa700"/>
<rect x="379.55" y="202.54" width="18.23" height="18.27" fill="#ffa700"/>
<rect x="26.92" y="220.21" width="18.23" height="18.27" fill="#ff0300"/>
<rect x="44.55" y="220.21" width="18.23" height="18.27" fill="#ff0300"/>
<rect x="62.18" y="220.21" width="18.23" height="18.27" fill="#ff0300"/>
<rect x="79.82" y="220.21" width="18.23" height="18.27" fill="#ee0000"/>
<rect x="97.45" y="220.21" width="18.23" height="18.27" fill="#da0000"/>
<rect x="115.08" y="220.21" width="18.23" height="18.27" fill="#c50000"/>
<rect x="132.71" y="220.21" width="18.23" height="18.27" fill="#b80000"/>
<rect x="150.34" y="220.21" width="18.23" height="18.27" fill="#b10000"/>
<rect x="167.97" y="220.21" width="18.23" height="18.27" fill="#aa0000"/>
<rect x="185.60" y="220.21" width="18.23" height="18.27" fill="#a30000"/>
<rect x="203.23" y="220.21" width="18.23" height="18.27" fill="#a30000"/>
<rect x="220.87" y="220.21" width="18.23" height="18.27" fill="#8f0000"/>
<rect x="238.50" y="220.21" width="18.23" height="18.27" fill="#880000"/>
<rect x="256.13" y="220.21" width="18.23" height="18.27" fill="#9c0000"/>
<rect x="273.76" y="220.21" width="18.23" height="18.27" fill="#e00000"/>
<rect x="291.39" y="220.21" width="18.23" height="18.27" fill="#ff2c00"/>
<rect x="309.02" y="220.21" width="18.23" height="18.27" fill="#ff9900"/>
<rect x="326.65" y="220.21" width="18.23" height="18.27" fill="#ffcf00"/>
<rect x="344.28" y="220.21" width="18.23" height="18.27" fill="#ffdd00"/>
<rect x="361.92" y="220.21" width="18.23" height="18.27" fill="#ffdd00"/>
<rect x="379.55" y="220.21" width="18.23" height="18.27" fill="#ffdd00"/>
<rect x="26.92" y="237.89" width="18.23" height="18.27" fill="#fc0000"/>
<rect x="44.55" y="237.89" width="18.23" height="18.27" fill="#fc0000"/>
<rect x="62.18" y="237.89" width="18.23" height="18.27" fill="#fc0000"/>
<rect x="79.82" y="237.89" width="18.23" height="18.27" fill="#e70000"/>
<rect x="97.45" y="237.89" width="18.23" height="18.27" fill="#d30000"/>
<rect x="115.08" y="237.89" width="18.23" height="18.27" fill="#c50000"/>
<rect x="132.71" y="237.89" width="18.23" height="18.27" fill="#b80000"/>
<rect x="150.34" y="237.89" width="18.23" height="18.27" fill="#aa0000"/>
<rect x="167.97" y="237.89" width="18.23" height="18.27" fill="#a30000"/>
<rect x="185.60" y="237.89" width="18.23" height="18.27" fill="#a30000"/>
<rect x="203.23" y="237.89" width="18.23" height="18.27" fill="#a30000"/>
<rect x="220.87" y="237.89" width="18.23" height="18.27" fill="#8f0000"/>
<rect x="238.50" y="237.89" width="18.23" height="18.27" fill="#8f0000"/>
<rect x="256.13" y="237.89" width="18.23" height="18.27" fill="#9c0000"/>
<rect x="273.76" y="237.89" width="18.23" height="18.27" fill="#e00000"/>
<rect x="291.39" y="237.89" width="18.23" height="18.27" fill="#ff1f00"/>
<rect x="309.02" y="237.89" width="18.23" height="18.27" fill="#ff5500"/>
<rect x="326.65" y="237.89" width="18.23" height="18.27" fill="#ff6300"/>
<rect x="344.28" y="237.89" width="18.23" height="18.27" fill="#ff6300"/>
<rect x="361.92" y="237.89" width="18.23" height="18.27" fill="#ff6300"/>
<rect x="379.55" y="237.89" width="18.23" height="18.27" fill="#ff6300"/>
<rect x="26.92" y="255.56" width="18.23" height="18.27" fill="#f50000"/>
<rect x="44.55" y="255.56" width="18.23" height="18.27" fill="#f50000"/>
<rect x="62.18" y="255.56" width="18.23" height="18.27" fill="#f50000"/>
<rect x="79.82" y="255.56" width="18.23" height="18.27" fill="#e00000"/>
<rect x="97.45" y="255.56" width="18.23" height="18.27" fill="#cc0000"/>
<rect x="115.08" y="255.56" width="18.23" height="18.27" fill="#be0000"/>
<rect x="132.71" y="255.56" width="18.23" height="18.27" fill="#b10000"/>
<rect x="150.34" y="255.56" width="18.23" height="18.27" fill="#aa0000"/>
<rect x="167.97" y="255.56" width="18.23" height="18.27" fill="#a30000"/>
<rect x="185.60" y="255.56" width="18.23" height="18.27" fill="#a30000"/>
<rect x="203.23" y="255.56" width="18.23" height="18.27" fill="#a30000"/>
<rect x="220.87" y="255.56" width="18.23" height="18.27" fill="#960000"/>
<rect x="238.50" y="255.56" width="18.23" height="18.27" fill="#960000"/>
<rect x="256.13" y="255.56" width="18.23" height="18.27" fill="#9c0000"/>
<rect x="273.76" y="255.56" width="18.23" height="18.27" fill="#e00000"/>
<rect x="291.39" y="255.56" width="18.23" height="18.27" fill="#ff3300"/>
<rect x="309.02" y="255.56" width="18.23" height="18.27" fill="#ffa700"/>
<rect x="326.65" y="255.56" width="18.23" height="18.27" fill="#ffdd00"/>
<rect x="344.28" y="255.56" width="18.23" height="18.27" fill="#fff800"/>
<rect x="361.92" y="255.56" width="18.23" height="18.27" fill="#fff800"/>
<rect x="379.55" y="255.56" width="18.23" height="18.27" fill="#fff800"/>
<rect x="26.92" y="273.24" width="18.23" height="18.27" fill="#ee0000"/>
<rect x="44.55" y="273.24" width="18.23" height="18.27" fill="#ee0000"/>
<rect x="62.18" y="273.24" width="18.23" height="18.27" fill="#ee0000"/>
<rect x="79.82" y="273.24" width="18.23" height="18.27" fill="#da0000"/>
<rect x="97.45" y="273.24" width="18.23" height="18.27" fill="#c50000"/>
<rect x="115.08" y="273.24" width="18.23" height="18.27" fill="#b80000"/>
<rect x="132.71" y="273.24" width="18.23" height="18.27" fill="#b10000"/>
<rect x="150.34" y="273.24" width="18.23" height="18.27" fill="#aa0000"/>
<rect x="167.97" y="273.24" width="18.23" height="18.27" fill="#a30000"/>
<rect x="185.60" y="273.24" width="18.23" height="18.27" fill="#a30000"/>
<rect x="203.23" y="273.24" width="18.23" height="18.27" fill="#a30000"/>
<rect x="220.87" y="273.24" width="18.23" height="18.27" fill="#9c0000"/>
<rect x="238.50" y="273.24" width="18.23" height="18.27" fill="#9c0000"/>
<rect x="256.13" y="273.24" width="18.23" height="18.27" fill="#9c0000"/>
<rect x="273.76" y="273.24" width="18.23" height="18.27" fill="#e00000"/>
<rect x="291.39" y="273.24" width="18.23" height="18.27" fill="#ff1f00"/>
<rect x="309.02" y="273.24" width="18.23" height="18.27" fill="#ff7700"/>
<rect x="326.65" y="273.24" width="18.23" height="18.27" fill="#ffc200"/>
<rect x="344.28" y="273.24" width="18.23" height="18.27" fill="#ffeb00"/>
<rect x="361.92" y="273.24" width="18.23" height="18.27" fill="#ffeb00"/>
<rect x="379.55" y="273.24" width="18.23" height="18.27" fill="#ffeb00"/>
<rect x="26.92" y="290.91" width="18.23" height="18.27" fill="#e00000"/>
<rect x="44.55" y="290.91" width="18.23" height="18.27" fill="#e00000"/>
<rect x="62.18" y="290.91" width="18.23" height="18.27" fill="#e00000"/>
<rect x="79.82" y="290.91" width="18.23" height="18.27" fill="#cc0000"/>
<rect x="97.45" y="290.91" width="18.23" height="18.27" fill="#b80000"/>
<rect x="115.08" y="290.91" width="18.23" height="18.27" fill="#aa0000"/>
<rect x="132.71" y="290.91" width="18.23" height="18.27" fill="#a30000"/>
<rect x="150.34" y="290.91" width="18.23" height="18.27" fill="#a30000"/>
<rect x="167.97" y="290.91" width="18.23" height="18.27" fill="#9c0000"/>
<rect x="185.60" y="290.91" width="18.23" height="18.27" fill="#9c0000"/>
<rect x="203.23" y="290.91" width="18.23" height="18.27" fill="#9c0000"/>
<rect x="220.87" y="290.91" width="18.23" height="18.27" fill="#9c0000"/>
<rect x="238.50" y="290.91" width="18.23" height="18.27" fill="#9c0000"/>
<rect x="256.13" y="290.91" width="18.23" height="18.27" fill="#9c0000"/>
<rect x="273.76" y="290.91" width="18.23" height="18.27" fill="#da0000"/>
<rect x="291.39" y="290.91" width="18.23" height="18.27" fill="#ff0300"/>
<rect x="309.02" y="290.91" width="18.23" height="18.27" fill="#ff3300"/>
<rect x="326.65" y="290.91" width="18.23" height="18.27" fill="#ff5500"/>
<rect x="344.28" y="290.91" width="18.23" height="18.27" fill="#ff7700"/>
<rect x="361.92" y="290.91" width="18.23" height="18.27" fill="#ff7700"/>
<rect x="379.55" y="290.91" width="18.23" height="18.27" fill="#ff7700"/>
<rect x="26.92" y="308.59" width="18.23" height="18.27" fill="#cc0000"/>
<rect x="44.55" y="308.59" width="18.23" height="18.27" fill="#cc0000"/>
<rect x="62.18" y="308.59" width="18.23" height="18.27" fill="#cc0000"/>
<rect x="79.82" y="308.59" width="18.23" height="18.27" fill="#b80000"/>
<rect x="97.45" y="308.59" width="18.23" height="18.27" fill="#960000"/>
<rect x="115.08" y="308.59" width="18.23" height="18.27" fill="#880000"/>
<rect x="132.71" y="308.59" width="18.23" height="18.27" fill="#8f0000"/>
<rect x="150.34" y="308.59" width="18.23" height="18.27" fill="#960000"/>
<rect x="167.97" y="308.59" width="18.23" height="18.27" fill="#960000"/>
<rect x="185.60" y="308.59" width="18.23" height="18.27" fill="#960000"/>
<rect x="203.23" y="308.59" width="18.23" height="18.27" fill="#960000"/>
<rect x="220.87" y="308.59" width="18.23" height="18.27" fill="#960000"/>
<rect x="238.50" y="308.59" width="18.23" height="18.27" fill="#9c0000"/>
<rect x="256.13" y="308.59" width="18.23" height="18.27" fill="#9c0000"/>
<rect x="273.76" y="308.59" width="18.23" height="18.27" fill="#d30000"/>
<rect x="291.39" y="308.59" width="18.23" height="18.27" fill="#ee0000"/>
<rect x="309.02" y="308.59" width="18.23" height="18.27" fill="#ff0300"/>
<rect x="326.65" y="308.59" width="18.23" height="18.27" fill="#ff1100"/>
<rect x="344.28" y="308.59" width="18.23" height="18.27" fill="#ff1f00"/>
<rect x="361.92" y="308.59" width="18.23" height="18.27" fill="#ff1f00"/>
<rect x="379.55" y="308.59" width="18.23" height="18.27" fill="#ff1f00"/>
<rect x="26.92" y="326.26" width="18.23" height="18.27" fill="#be0000"/>
<rect x="44.55" y="326.26" width="18.23" height="18.27" fill="#be0000"/>
<rect x="62.18" y="326.26" width="18.23" height="18.27" fill="#be0000"/>
<rect x="79.82" y="326.26" width="18.23" height="18.27" fill="#aa0000"/>
<rect x="97.45" y="326.26" width="18.23" height="18.27" fill="#880000"/>
<rect x="115.08" y="326.26" width="18.23" height="18.27" fill="#7a0000"/>
<rect x="132.71" y="326.26" width="18.23" height="18.27" fill="#880000"/>
<rect x="150.34" y="326.26" width="18.23" height="18.27" fill="#8f0000"/>
<rect x="167.97" y="326.26" width="18.23" height="18.27" fill="#960000"/>
<rect x="185.60" y="326.26" width="18.23" height="18.27" fill="#960000"/>
<rect x="203.23" y="326.26" width="18.23" height="18.27" fill="#960000"/>
<rect x="220.87" y="326.26" width="18.23" height="18.27" fill="#960000"/>
<rect x="238.50" y="326.26" width="18.23" height="18.27" fill="#9c0000"/>
<rect x="256.13" y="326.26" width="18.23" height="18.27" fill="#9c0000"/>
<rect x="273.76" y="326.26" width="18.23" height="18.27" fill="#cc0000"/>
<rect x="291.39" y="326.26" width="18.23" height="18.27" fill="#e00000"/>
<rect x="309.02" y="326.26" width="18.23" height="18.27" fill="#ee0000"/>
<rect x="326.65" y="326.26" width="18.23" height="18.27" fill="#fc0000"/>
<rect x="344.28" y="326.26" width="18.23" height="18.27" fill="#ff0300"/>
<rect x="361.92" y="326.26" width="18.23" height="18.27" fill="#ff0300"/>
<rect x="379.55" y="326.26" width="18.23" height="18.27" fill="#ff0300"/>
<rect x="26.92" y="343.94" width="18.23" height="18.27" fill="#be0000"/>
<rect x="44.55" y="343.94" width="18.23" height="18.27" fill="#be0000"/>
<rect x="62.18" y="343.94" width="18.23" height="18.27" fill="#be0000"/>
<rect x="79.82" y="343.94" width="18.23" height="18.27" fill="#aa0000"/>
<rect x="97.45" y="343.94" width="18.23" height="18.27" fill="#880000"/>
<rect x="115.08" y="343.94" width="18.23" height="18.27" fill="#7a0000"/>
<rect x="132.71" y="343.94" width="18.23" height="18.27" fill="#880000"/>
<rect x="150.34" y="343.94" width="18.23" height="18.27" fill="#8f0000"/>
<rect x="167.97" y="343.94" width="18.23" height="18.27" fill="#960000"/>
<rect x="185.60" y="343.94" width="18.23" height="18.27" fill="#960000"/>
<rect x="203.23" y="343.94" width="18.23" height="18.27" fill="#960000"/>
<rect x="220.87" y="343.94" width="18.23" height="18.27" fill="#960000"/>
<rect x="238.50" y="343.94" width="18.23" height="18.27" fill="#9c0000"/>
<rect x="256.13" y="343.94" width="18.23" height="18.27" fill="#9c0000"/>
<rect x="273.76" y="343.94" width="18.23" height="18.27" fill="#cc0000"/>
<rect x="291.39" y="343.94" width="18.23" height="18.27" fill="#e00000"/>
<rect x="309.02" y="343.94" width="18.23" height="18.27" fill="#ee0000"/>
<rect x="326.65" y="343.94" width="18.23" height="18.27" fill="#fc0000"/>
<rect x="344.28" y="343.94" width="18.23" height="18.27" fill="#ff0300"/>
<rect x="361.92" y="343.94" width="18.23" height="18.27" fill="#ff0300"/>
<rect x="379.55" y="343.94" width="18.23" height="18.27" fill="#ff0300"/>
<rect x="26.92" y="361.61" width="18.23" height="18.27" fill="#be0000"/>
<rect x="44.55" y="361.61" width="18.23" height="18.27" fill="#be0000"/>
<rect x="62.18" y="361.61" width="18.23" height="18.27" fill="#be0000"/>
<rect x="79.82" y="361.61" width="18.23" height="18.27" fill="#aa0000"/>
<rect x="97.45" y="361.61" width="18.23" height="18.27" fill="#880000"/>
<rect x="115.08" y="361.61" width="18.23" height="18.27" fill="#7a0000"/>
<rect x="132.71" y="361.61" width="18.23" height="18.27" fill="#880000"/>
<rect x="150.34" y="361.61" width="18.23" height="18.27" fill="#8f0000"/>
<rect x="167.97" y="361.61" width="18.23" height="18.27" fill="#960000"/>
<rect x="185.60" y="361.61" width="18.23" height="18.27" fill="#960000"/>
<rect x="203.23" y="361.61" width="18.23" height="18.27" fill="#960000"/>
<rect x="220.87" y="361.61" width="18.23" height="18.27" fill="#960000"/>
<rect x="238.50" y="361.61" width="18.23" height="18.27" fill="#9c0000"/>
<rect x="256.13" y="361.61" width="18.23" height="18.27" fill="#9c0000"/>
<rect x="273.76" y="361.61" width="18.23" height="18.27" fill="#cc0000"/>
<rect x="291.39" y="361.61" width="18.23" height="18.27" fill="#e00000"/>
<rect x="309.02" y="361.61" width="18.23" height="18.27" fill="#ee0000"/>
<rect x="326.65" y="361.61" width="18.23" height="18.27" fill="#fc0000"/>
<rect x="344.28" y="361.61" width="18.23" height="18.27" fill="#ff0300"/>
<rect x="361.92" y="361.61" width="18.23" height="18.27" fill="#ff0300"/>
<rect x="379.55" y="361.61" width="18.23" height="18.27" fill="#ff0300"/>
</g></g>
<rect x="71.30" y="317.72" width="35.26" height="17.67" fill="#666666" />
<rect x="318.14" y="300.05" width="35.26" height="35.35" fill="#666666" />
<line x1="212.45" y1="53.20" x2="212.45" y2="335.40" stroke="#14e02c" stroke-width="3.5" stroke-dasharray="8 3.45" stroke-dashoffset="2.75"/>
<rect x="71.30" y="52.60" width="282.10" height="282.80" fill="none" stroke="#262626" stroke-width="1.4"/>
<line x1="71.30" y1="335.40" x2="71.30" y2="332.40" stroke="#262626" stroke-width="1.30" />
<line x1="71.30" y1="52.60" x2="71.30" y2="55.60" stroke="#262626" stroke-width="1.30" />
<line x1="71.30" y1="52.60" x2="74.30" y2="52.60" stroke="#262626" stroke-width="1.30" />
<line x1="353.40" y1="52.60" x2="350.40" y2="52.60" stroke="#262626" stroke-width="1.30" />
<line x1="141.82" y1="335.40" x2="141.82" y2="332.40" stroke="#262626" stroke-width="1.30" />
<line x1="141.82" y1="52.60" x2="141.82" y2="55.60" stroke="#262626" stroke-width="1.30" />
<line x1="71.30" y1="123.30" x2="74.30" y2="123.30" stroke="#262626" stroke-width="1.30" />
<line x1="353.40" y1="123.30" x2="350.40" y2="123.30" stroke="#262626" stroke-width="1.30" />
<line x1="212.35" y1="335.40" x2="212.35" y2="332.40" stroke="#262626" stroke-width="1.30" />
<line x1="212.35" y1="52.60" x2="212.35" y2="55.60" stroke="#262626" stroke-width="1.30" />
<line x1="71.30" y1="194.00" x2="74.30" y2="194.00" stroke="#262626" stroke-width="1.30" />
<line x1="353.40" y1="194.00" x2="350.40" y2="194.00" stroke="#262626" stroke-width="1.30" />
<line x1="282.88" y1="335.40" x2="282.88" y2="332.40" stroke="#262626" stroke-width="1.30" />
<line x1="282.88" y1="52.60" x2="282.88" y2="55.60" stroke="#262626" stroke-width="1.30" />
<line x1="71.30" y1="264.70" x2="74.30" y2="264.70" stroke="#262626" stroke-width="1.30" />
<line x1="353.40" y1="264.70" x2="350.40" y2="264.70" stroke="#262626" stroke-width="1.30" />
<line x1="353.40" y1="335.40" x2="353.40" y2="332.40" stroke="#262626" stroke-width="1.30" />
<line x1="353.40" y1="52.60" x2="353.40" y2="55.60" stroke="#262626" stroke-width="1.30" />
<line x1="71.30" y1="335.40" x2="74.30" y2="335.40" stroke="#262626" stroke-width="1.30" />
<line x1="353.40" y1="335.40" x2="350.40" y2="335.40" stroke="#262626" stroke-width="1.30" />
<g clip-path="url(#clipb)"><g filter="url(#blurb)">
<rect x="398.00" y="8.11" width="18.20" height="18.27" fill="#ff0300"/>
<rect x="415.60" y="8.11" width="18.20" height="18.27" fill="#ff0300"/>
<rect x="433.20" y="8.11" width="18.20" height="18.27" fill="#ff0300"/>
<rect x="450.80" y="8.11" width="18.20" height="18.27" fill="#ff0700"/>
<rect x="468.40" y="8.11" width="18.20" height="18.27" fill="#ff0a00"/>
<rect x="486.00" y="8.11" width="18.20" height="18.27" fill="#ff0a00"/>
<rect x="503.60" y="8.11" width="18.20" height="18.27" fill="#ff0a00"/>
<rect x="521.20" y="8.11" width="18.20" height="18.27" fill="#ff0700"/>
<rect x="538.80" y="8.11" width="18.20" height="18.27" fill="#ff0300"/>
<rect x="556.40" y="8.11" width="18.20" height="18.27" fill="#fc0000"/>
<rect x="574.00" y="8.11" width="18.20" height="18.27" fill="#f50000"/>
<rect x="591.60" y="8.11" width="18.20" height="18.27" fill="#e40000"/>
<rect x="609.20" y="8.11" width="18.20" height="18.27" fill="#d30000"/>
<rect x="626.80" y="8.11" width="18.20" height="18.27" fill="#cc0000"/>
<rect x="644.40" y="8.11" width="18.20" height="18.27" fill="#c50000"/>
<rect x="662.00" y="8.11" width="18.20" height="18.27" fill="#be0000"/>
<rect x="679.60" y="8.11" width="18.20" height="18.27" fill="#b80000"/>
<rect x="697.20" y="8.11" width="18.20" height="18.27" fill="#b10000"/>
<rect x="714.80" y="8.11" width="18.20" height="18.27" fill="#aa0000"/>
<rect x="732.40" y="8.11" width="18.20" height="18.27" fill="#aa0000"/>
<rect x="750.00" y="8.11" width="18.20" height="18.27" fill="#aa0000"/>
<rect x="398.00" y="25.79" width="18.20" height="18.27" fill="#ff0300"/>
<rect x="415.60" y="25.79" width="18.20" height="18.27" fill="#ff0300"/>
<rect x="433.20" y="25.79" width="18.20" height="18.27" fill="#ff0300"/>
<rect x="450.80" y="25.79" width="18.20" height="18.27" fill="#ff0700"/>
<rect x="468.40" y="25.79" width="18.20" height="18.27" fill="#ff0a00"/>
<rect x="486.00" y="25.79" width="18.20" height="18.27" fill="#ff0a00"/>
<rect x="503.60" y="25.79" width="18.20" height="18.27" fill="#ff0a00"/>
<rect x="521.20" y="25.79" width="18.20" height="18.27" fill="#ff0700"/>
<rect x="538.80" y="25.79" width="18.20" height="18.27" fill="#ff0300"/>
<rect x="556.40" y="25.79" width="18.20" height="18.27" fill="#fc0000"/>
<rect x="574.00" y="25.79" width="18.20" height="18.27" fill="#f50000"/>
<rect x="591.60" y="25.79" width="18.20" height="18.27" fill="#e40000"/>
<rect x="609.20" y="25.79" width="18.20" height="18.27" fill="#d30000"/>
<rect x="626.80" y="25.79" width="18.20" height="18.27" fill="#cc0000"/>
<rect x="644.40" y="25.79" width="18.20" height="18.27" fill="#c50000"/>
<rect x="662.00" y="25.79" width="18.20" height="18.27" fill="#be0000"/>
<rect x="679.60" y="25.79" width="18.20" height="18.27" fill="#b80000"/>
<rect x="697.20" y="25.79" width="18.20" height="18.27" fill="#b10000"/>
<rect x="714.80" y="25.79" width="18.20" height="18.27" fill="#aa0000"/>
<rect x="732.40" y="25.79" width="18.20" height="18.27" fill="#aa0000"/>
<rect x="750.00" y="25.79" width="18.20" height="18.27" fill="#aa0000"/>
<rect x="398.00" y="43.46" width="18.20" height="18.27" fill="#ff0300"/>
<rect x="415.60" y="43.46" width="18.20" height="18.27" fill="#ff0300"/>
<rect x="433.20" y="43.46" width="18.20" height="18.27" fill="#ff0300"/>
<rect x="450.80" y="43.46" width="18.20" height="18.27" fill="#ff0700"/>
<rect x="468.40" y="43.46" width="18.20" height="18.27" fill="#ff0a00"/>
<rect x="486.00" y="43.46" width="18.20" height="18.27" fill="#ff0a00"/>
<rect x="503.60" y="43.46" width="18.20" height="18.27" fill="#ff0a00"/>
<rect x="521.20" y="43.46" width="18.20" height="18.27" fill="#ff0700"/>
<rect x="538.80" y="43.46" width="18.20" height="18.27" fill="#ff0300"/>
<rect x="556.40" y="43.46" width="18.20" height="18.27" fill="#fc0000"/>
<rect x="574.00" y="43.46" width="18.20" height="18.27" fill="#f50000"/>
<rect x="591.60" y="43.46" width="18.20" height="18.27" fill="#e40000"/>
<rect x="609.20" y="43.46" width="18.20" height="18.27" fill="#d30000"/>
<rect x="626.80" y="43.46" width="18.20" height="18.27" fill="#cc0000"/>
<rect x="644.40" y="43.46" width="18.20" height="18.27" fill="#c50000"/>
<rect x="662.00" y="43.46" width="18.20" height="18.27" fill="#be0000"/>
<rect x="679.60" y="43.46" width="18.20" height="18.27" fill="#b80000"/>
<rect x="697.20" y="43.46" width="18.20" height="18.27" fill="#b10000"/>
<rect x="714.80" y="43.46" width="18.20" height="18.27" fill="#aa0000"/>
<rect x="732.40" y="43.46" width="18.20" height="18.27" fill="#aa0000"/>
<rect x="750.00" y="43.46" width="18.20" height="18.27" fill="#aa0000"/>
<rect x="398.00" y="61.14" width="18.20" height="18.27" fill="#ff0a00"/>
<rect x="415.60" y="61.14" width="18.20" height="18.27" fill="#ff0a00"/>
<rect x="433.20" y="61.14" width="18.20" height="18.27" fill="#ff0a00"/>
<rect x="450.80" y="61.14" width="18.20" height="18.27" fill="#ff0c00"/>
<rect x="468.40" y="61.14" width="18.20" height="18.27" fill="#ff0e00"/>
<rect x="486.00" y="61.14" width="18.20" height="18.27" fill="#ff0c00"/>
<rect x="503.60" y="61.14" width="18.20" height="18.27" fill="#ff0a00"/>
<rect x="521.20" y="61.14" width="18.20" height="18.27" fill="#ff0700"/>
<rect x="538.80" y="61.14" width="18.20" height="18.27" fill="#ff0300"/>
<rect x="556.40" y="61.14" width="18.20" height="18.27" fill="#fa0000"/>
<rect x="574.00" y="61.14" width="18.20" height="18.27" fill="#f10000"/>
<rect x="591.60" y="61.14" width="18.20" height="18.27" fill="#dd0000"/>
<rect x="609.20" y="61.14" width="18.20" height="18.27" fill="#c90000"/>
<rect x="626.80" y="61.14" width="18.20" height="18.27" fill="#c50000"/>
<rect x="644.40" y="61.14" width="18.20" height="18.27" fill="#c20000"/>
<rect x="662.00" y="61.14" width="18.20" height="18.27" fill="#c00000"/>
<rect x="679.60" y="61.14" width="18.20" height="18.27" fill="#be0000"/>
<rect x="697.20" y="61.14" width="18.20" height="18.27" fill="#bb0000"/>
<rect x="714.80" y="61.14" width="18.20" height="18.27" fill="#b80000"/>
<rect x="732.40" y="61.14" width="18.20" height="18.27" fill="#b80000"/>
<rect x="750.00" y="61.14" width="18.20" height="18.27" fill="#b80000"/>
<rect x="398.00" y="78.81" width="18.20" height="18.27" fill="#ff1100"/>
<rect x="415.60" y="78.81" width="18.20" height="18.27" fill="#ff1100"/>
<rect x="433.20" y="78.81" width="18.20" height="18.27" fill="#ff1100"/>
<rect x="450.80" y="78.81" width="18.20" height="18.27" fill="#ff1100"/>
<rect x="468.40" y="78.81" width="18.20" height="18.27" fill="#ff1100"/>
<rect x="486.00" y="78.81" width="18.20" height="18.27" fill="#ff0e00"/>
<rect x="503.60" y="78.81" width="18.20" height="18.27" fill="#ff0a00"/>
<rect x="521.20" y="78.81" width="18.20" height="18.27" fill="#ff0700"/>
<rect x="538.80" y="78.81" width="18.20" height="18.27" fill="#ff0300"/>
<rect x="556.40" y="78.81" width="18.20" height="18.27" fill="#f80000"/>
<rect x="574.00" y="78.81" width="18.20" height="18.27" fill="#ee0000"/>
<rect x="591.60" y="78.81" width="18.20" height="18.27" fill="#d60000"/>
<rect x="609.20" y="78.81" width="18.20" height="18.27" fill="#be0000"/>
<rect x="626.80" y="78.81" width="18.20" height="18.27" fill="#be0000"/>
<rect x="644.40" y="78.81" width="18.20" height="18.27" fill="#be0000"/>
<rect x="662.00" y="78.81" width="18.20" height="18.27" fill="#c20000"/>
<rect x="679.60" y="78.81" width="18.20" height="18.27" fill="#c50000"/>
<rect x="697.20" y="78.81" width="18.20" height="18.27" fill="#c50000"/>
<rect x="714.80" y="78.81" width="18.20" height="18.27" fill="#c50000"/>
<rect x="732.40" y="78.81" width="18.20" height="18.27" fill="#c50000"/>
<rect x="750.00" y="78.81" width="18.20" height="18.27" fill="#c50000"/>
<rect x="398.00" y="96.49" width="18.20" height="18.27" fill="#ff2200"/>
<rect x="415.60" y="96.49" width="18.20" height="18.27" fill="#ff2200"/>
<rect x="433.20" y="96.49" width="18.20" height="18.27" fill="#ff2200"/>
<rect x="450.80" y="96.49" width="18.20" height="18.27" fill="#ff1f00"/>
<rect x="468.40" y="96.49" width="18.20" height="18.27" fill="#ff1b00"/>
<rect x="486.00" y="96.49" width="18.20" height="18.27" fill="#ff1400"/>
<rect x="503.60" y="96.49" width="18.20" height="18.27" fill="#ff0e00"/>
<rect x="521.20" y="96.49" width="18.20" height="18.27" fill="#ff0800"/>
<rect x="538.80" y="96.49" width="18.20" height="18.27" fill="#ff0300"/>
<rect x="556.40" y="96.49" width="18.20" height="18.27" fill="#f60000"/>
<rect x="574.00" y="96.49" width="18.20" height="18.27" fill="#eb0000"/>
<rect x="591.60" y="96.49" width="18.20" height="18.27" fill="#cf0000"/>
<rect x="609.20" y="96.49" width="18.20" height="18.27" fill="#b40000"/>
<rect x="626.80" y="96.49" width="18.20" height="18.27" fill="#b80000"/>
<rect x="644.40" y="96.49" width="18.20" height="18.27" fill="#bb0000"/>
<rect x="662.00" y="96.49" width="18.20" height="18.27" fill="#c20000"/>
<rect x="679.60" y="96.49" width="18.20" height="18.27" fill="#c90000"/>
<rect x="697.20" y="96.49" width="18.20" height="18.27" fill="#ce0000"/>
<rect x="714.80" y="96.49" width="18.20" height="18.27" fill="#d30000"/>
<rect x="732.40" y="96.49" width="18.20" height="18.27" fill="#d30000"/>
<rect x="750.00" y="96.49" width="18.20" height="18.27" fill="#d30000"/>
<rect x="398.00" y="114.16" width="18.20" height="18.27" fill="#ff3300"/>
<rect x="415.60" y="114.16" width="18.20" height="18.27" fill="#ff3300"/>
<rect x="433.20" y="114.16" width="18.20" height="18.27" fill="#ff3300"/>
<rect x="450.80" y="114.16" width="18.20" height="18.27" fill="#ff2c00"/>
<rect x="468.40" y="114.16" width="18.20" height="18.27" fill="#ff2500"/>
<rect x="486.00" y="114.16" width="18.20" height="18.27" fill="#ff1b00"/>
<rect x="503.60" y="114.16" width="18.20" height="18.27" fill="#ff1100"/>
<rect x="521.20" y="114.16" width="18.20" height="18.27" fill="#ff0a00"/>
<rect x="538.80" y="114.16" width="18.20" height="18.27" fill="#ff0300"/>
<rect x="556.40" y="114.16" width="18.20" height="18.27" fill="#f50000"/>
<rect x="574.00" y="114.16" width="18.20" height="18.27" fill="#e70000"/>
<rect x="591.60" y="114.16" width="18.20" height="18.27" fill="#c90000"/>
<rect x="609.20" y="114.16" width="18.20" height="18.27" fill="#aa0000"/>
<rect x="626.80" y="114.16" width="18.20" height="18.27" fill="#b10000"/>
<rect x="644.40" y="114.16" width="18.20" height="18.27" fill="#b80000"/>
<rect x="662.00" y="114.16" width="18.20" height="18.27" fill="#c20000"/>
<rect x="679.60" y="114.16" width="18.20" height="18.27" fill="#cc0000"/>
<rect x="697.20" y="114.16" width="18.20" height="18.27" fill="#d60000"/>
<rect x="714.80" y="114.16" width="18.20" height="18.27" fill="#e00000"/>
<rect x="732.40" y="114.16" width="18.20" height="18.27" fill="#e00000"/>
<rect x="750.00" y="114.16" width="18.20" height="18.27" fill="#e00000"/>
<rect x="398.00" y="131.84" width="18.20" height="18.27" fill="#ff5800"/>
<rect x="415.60" y="131.84" width="18.20" height="18.27" fill="#ff5800"/>
<rect x="433.20" y="131.84" width="18.20" height="18.27" fill="#ff5800"/>
<rect x="450.80" y="131.84" width="18.20" height="18.27" fill="#ff4e00"/>
<rect x="468.40" y="131.84" width="18.20" height="18.27" fill="#ff4400"/>
<rect x="486.00" y="131.84" width="18.20" height="18.27" fill="#ff3600"/>
<rect x="503.60" y="131.84" width="18.20" height="18.27" fill="#ff2900"/>
<rect x="521.20" y="131.84" width="18.20" height="18.27" fill="#ff1d00"/>
<rect x="538.80" y="131.84" width="18.20" height="18.27" fill="#ff1100"/>
<rect x="556.40" y="131.84" width="18.20" height="18.27" fill="#ff0200"/>
<rect x="574.00" y="131.84" width="18.20" height="18.27" fill="#f10000"/>
<rect x="591.60" y="131.84" width="18.20" height="18.27" fill="#d80000"/>
<rect x="609.20" y="131.84" width="18.20" height="18.27" fill="#be0000"/>
<rect x="626.80" y="131.84" width="18.20" height="18.27" fill="#c20000"/>
<rect x="644.40" y="131.84" width="18.20" height="18.27" fill="#c50000"/>
<rect x="662.00" y="131.84" width="18.20" height="18.27" fill="#ce0000"/>
<rect x="679.60" y="131.84" width="18.20" height="18.27" fill="#d60000"/>
<rect x="697.20" y="131.84" width="18.20" height="18.27" fill="#e00000"/>
<rect x="714.80" y="131.84" width="18.20" height="18.27" fill="#eb0000"/>
<rect x="732.40" y="131.84" width="18.20" height="18.27" fill="#eb0000"/>
<rect x="750.00" y="131.84" width="18.20" height="18.27" fill="#eb0000"/>
<rect x="398.00" y="149.51" width="18.20" height="18.27" fill="#ff7e00"/>
<rect x="415.60" y="149.51" width="18.20" height="18.27" fill="#ff7e00"/>
<rect x="433.20" y="149.51" width="18.20" height="18.27" fill="#ff7e00"/>
<rect x="450.80" y="149.51" width="18.20" height="18.27" fill="#ff7000"/>
<rect x="468.40" y="149.51" width="18.20" height="18.27" fill="#ff6300"/>
<rect x="486.00" y="149.51" width="18.20" height="18.27" fill="#ff5200"/>
<rect x="503.60" y="149.51" width="18.20" height="18.27" fill="#ff4100"/>
<rect x="521.20" y="149.51" width="18.20" height="18.27" fill="#ff3000"/>
<rect x="538.80" y="149.51" width="18.20" height="18.27" fill="#ff1f00"/>
<rect x="556.40" y="149.51" width="18.20" height="18.27" fill="#ff0e00"/>
<rect x="574.00" y="149.51" width="18.20" height="18.27" fill="#fc0000"/>
<rect x="591.60" y="149.51" width="18.20" height="18.27" fill="#e70000"/>
<rect x="609.20" y="149.51" width="18.20" height="18.27" fill="#d30000"/>
<rect x="626.80" y="149.51" width="18.20" height="18.27" fill="#d30000"/>
<rect x="644.40" y="149.51" width="18.20" height="18.27" fill="#d30000"/>
<rect x="662.00" y="149.51" width="18.20" height="18.27" fill="#da0000"/>
<rect x="679.60" y="149.51" width="18.20" height="18.27" fill="#e00000"/>
<rect x="697.20" y="149.51" width="18.20" height="18.27" fill="#eb0000"/>
<rect x="714.80" y="149.51" width="18.20" height="18.27" fill="#f50000"/>
<rect x="732.40" y="149.51" width="18.20" height="18.27" fill="#f50000"/>
<rect x="750.00" y="149.51" width="18.20" height="18.27" fill="#f50000"/>
<rect x="398.00" y="167.19" width="18.20" height="18.27" fill="#ff8f00"/>
<rect x="415.60" y="167.19" width="18.20" height="18.27" fill="#ff8f00"/>
<rect x="433.20" y="167.19" width="18.20" height="18.27" fill="#ff8f00"/>
<rect x="450.80" y="167.19" width="18.20" height="18.27" fill="#ff8500"/>
<rect x="468.40" y="167.19" width="18.20" height="18.27" fill="#ff7a00"/>
<rect x="486.00" y="167.19" width="18.20" height="18.27" fill="#ff6800"/>
<rect x="503.60" y="167.19" width="18.20" height="18.27" fill="#ff5500"/>
<rect x="521.20" y="167.19" width="18.20" height="18.27" fill="#ff4400"/>
<rect x="538.80" y="167.19" width="18.20" height="18.27" fill="#ff3300"/>
<rect x="556.40" y="167.19" width="18.20" height="18.27" fill="#ff2400"/>
<rect x="574.00" y="167.19" width="18.20" height="18.27" fill="#ff1400"/>
<rect x="591.60" y="167.19" width="18.20" height="18.27" fill="#ff0000"/>
<rect x="609.20" y="167.19" width="18.20" height="18.27" fill="#eb0000"/>
<rect x="626.80" y="167.19" width="18.20" height="18.27" fill="#e70000"/>
<rect x="644.40" y="167.19" width="18.20" height="18.27" fill="#e40000"/>
<rect x="662.00" y="167.19" width="18.20" height="18.27" fill="#e90000"/>
<rect x="679.60" y="167.19" width="18.20" height="18.27" fill="#ee0000"/>
<rect x="697.20" y="167.19" width="18.20" height="18.27" fill="#f50000"/>
<rect x="714.80" y="167.19" width="18.20" height="18.27" fill="#fc0000"/>
<rect x="732.40" y="167.19" width="18.20" height="18.27" fill="#fc0000"/>
<rect x="750.00" y="167.19" width="18.20" height="18.27" fill="#fc0000"/>
<rect x="398.00" y="184.86" width="18.20" height="18.27" fill="#ffa000"/>
<rect x="415.60" y="184.86" width="18.20" height="18.27" fill="#ffa000"/>
<rect x="433.20" y="184.86" width="18.20" height="18.27" fill="#ffa000"/>
<rect x="450.80" y="184.86" width="18.20" height="18.27" fill="#ff9900"/>
<rect x="468.40" y="184.86" width="18.20" height="18.27" fill="#ff9200"/>
<rect x="486.00" y="184.86" width="18.20" height="18.27" fill="#ff7e00"/>
<rect x="503.60" y="184.86" width="18.20" height="18.27" fill="#ff6900"/>
<rect x="521.20" y="184.86" width="18.20" height="18.27" fill="#ff5800"/>
<rect x="538.80" y="184.86" width="18.20" height="18.27" fill="#ff4700"/>
<rect x="556.40" y="184.86" width="18.20" height="18.27" fill="#ff3a00"/>
<rect x="574.00" y="184.86" width="18.20" height="18.27" fill="#ff2c00"/>
<rect x="591.60" y="184.86" width="18.20" height="18.27" fill="#ff1800"/>
<rect x="609.20" y="184.86" width="18.20" height="18.27" fill="#ff0300"/>
<rect x="626.80" y="184.86" width="18.20" height="18.27" fill="#fc0000"/>
<rect x="644.40" y="184.86" width="18.20" height="18.27" fill="#f50000"/>
<rect x="662.00" y="184.86" width="18.20" height="18.27" fill="#f80000"/>
<rect x="679.60" y="184.86" width="18.20" height="18.27" fill="#fc0000"/>
<rect x="697.20" y="184.86" width="18.20" height="18.27" fill="#ff0000"/>
<rect x="714.80" y="184.86" width="18.20" height="18.27" fill="#ff0300"/>
<rect x="732.40" y="184.86" width="18.20" height="18.27" fill="#ff0300"/>
<rect x="750.00" y="184.86" width="18.20" height="18.27" fill="#ff0300"/>
<rect x="398.00" y="202.54" width="18.20" height="18.27" fill="#ffb100"/>
<rect x="415.60" y="202.54" width="18.20" height="18.27" fill="#ffb100"/>
<rect x="433.20" y="202.54" width="18.20" height="18.27" fill="#ffb100"/>
<rect x="450.80" y="202.54" width="18.20" height="18.27" fill="#ffaa00"/>
<rect x="468.40" y="202.54" width="18.20" height="18.27" fill="#ffa300"/>
<rect x="486.00" y="202.54" width="18.20" height="18.27" fill="#ff9200"/>
<rect x="503.60" y="202.54" width="18.20" height="18.27" fill="#ff8100"/>
<rect x="521.20" y="202.54" width="18.20" height="18.27" fill="#ff7000"/>
<rect x="538.80" y="202.54" width="18.20" height="18.27" fill="#ff5f00"/>
<rect x="556.40" y="202.54" width="18.20" height="18.27" fill="#ff5000"/>
<rect x="574.00" y="202.54" width="18.20" height="18.27" fill="#ff4100"/>
<rect x="591.60" y="202.54" width="18.20" height="18.27" fill="#ff2e00"/>
<rect x="609.20" y="202.54" width="18.20" height="18.27" fill="#ff1b00"/>
<rect x="626.80" y="202.54" width="18.20" height="18.27" fill="#ff1300"/>
<rect x="644.40" y="202.54" width="18.20" height="18.27" fill="#ff0a00"/>
<rect x="662.00" y="202.54" width="18.20" height="18.27" fill="#ff0c00"/>
<rect x="679.60" y="202.54" width="18.20" height="18.27" fill="#ff0e00"/>
<rect x="697.20" y="202.54" width="18.20" height="18.27" fill="#ff1100"/>
<rect x="714.80" y="202.54" width="18.20" height="18.27" fill="#ff1400"/>
<rect x="732.40" y="202.54" width="18.20" height="18.27" fill="#ff1400"/>
<rect x="750.00" y="202.54" width="18.20" height="18.27" fill="#ff1400"/>
<rect x="398.00" y="220.21" width="18.20" height="18.27" fill="#ffc200"/>
<rect x="415.60" y="220.21" width="18.20" height="18.27" fill="#ffc200"/>
<rect x="433.20" y="220.21" width="18.20" height="18.27" fill="#ffc200"/>
<rect x="450.80" y="220.21" width="18.20" height="18.27" fill="#ffbb00"/>
<rect x="468.40" y="220.21" width="18.20" height="18.27" fill="#ffb400"/>
<rect x="486.00" y="220.21" width="18.20" height="18.27" fill="#ffa700"/>
<rect x="503.60" y="220.21" width="18.20" height="18.27" fill="#ff9900"/>
<rect x="521.20" y="220.21" width="18.20" height="18.27" fill="#ff8800"/>
<rect x="538.80" y="220.21" width="18.20" height="18.27" fill="#ff7700"/>
<rect x="556.40" y="220.21" width="18.20" height="18.27" fill="#ff6600"/>
<rect x="574.00" y="220.21" width="18.20" height="18.27" fill="#ff5500"/>
<rect x="591.60" y="220.21" width="18.20" height="18.27" fill="#ff4400"/>
<rect x="609.20" y="220.21" width="18.20" height="18.27" fill="#ff3300"/>
<rect x="626.80" y="220.21" width="18.20" height="18.27" fill="#ff2900"/>
<rect x="644.40" y="220.21" width="18.20" height="18.27" fill="#ff1f00"/>
<rect x="662.00" y="220.21" width="18.20" height="18.27" fill="#ff1f00"/>
<rect x="679.60" y="220.21" width="18.20" height="18.27" fill="#ff1f00"/>
<rect x="697.20" y="220.21" width="18.20" height="18.27" fill="#ff2200"/>
<rect x="714.80" y="220.21" width="18.20" height="18.27" fill="#ff2500"/>
<rect x="732.40" y="220.21" width="18.20" height="18.27" fill="#ff2500"/>
<rect x="750.00" y="220.21" width="18.20" height="18.27" fill="#ff2500"/>
<rect x="398.00" y="237.89" width="18.20" height="18.27" fill="#ffcf00"/>
<rect x="415.60" y="237.89" width="18.20" height="18.27" fill="#ffcf00"/>
<rect x="433.20" y="237.89" width="18.20" height="18.27" fill="#ffcf00"/>
<rect x="450.80" y="237.89" width="18.20" height="18.27" fill="#ffc700"/>
<rect x="468.40" y="237.89" width="18.20" height="18.27" fill="#ffbe00"/>
<rect x="486.00" y="237.89" width="18.20" height="18.27" fill="#ffb100"/>
<rect x="503.60" y="237.89" width="18.20" height="18.27" fill="#ffa300"/>
<rect x="521.20" y="237.89" width="18.20" height="18.27" fill="#ff9200"/>
<rect x="538.80" y="237.89" width="18.20" height="18.27" fill="#ff8100"/>
<rect x="556.40" y="237.89" width="18.20" height="18.27" fill="#ff7500"/>
<rect x="574.00" y="237.89" width="18.20" height="18.27" fill="#ff6900"/>
<rect x="591.60" y="237.89" width="18.20" height="18.27" fill="#ff5a00"/>
<rect x="609.20" y="237.89" width="18.20" height="18.27" fill="#ff4b00"/>
<rect x="626.80" y="237.89" width="18.20" height="18.27" fill="#ff4200"/>
<rect x="644.40" y="237.89" width="18.20" height="18.27" fill="#ff3a00"/>
<rect x="662.00" y="237.89" width="18.20" height="18.27" fill="#ff3a00"/>
<rect x="679.60" y="237.89" width="18.20" height="18.27" fill="#ff3a00"/>
<rect x="697.20" y="237.89" width="18.20" height="18.27" fill="#ff3b00"/>
<rect x="714.80" y="237.89" width="18.20" height="18.27" fill="#ff3d00"/>
<rect x="732.40" y="237.89" width="18.20" height="18.27" fill="#ff3d00"/>
<rect x="750.00" y="237.89" width="18.20" height="18.27" fill="#ff3d00"/>
<rect x="398.00" y="255.56" width="18.20" height="18.27" fill="#ffdd00"/>
<rect x="415.60" y="255.56" width="18.20" height="18.27" fill="#ffdd00"/>
<rect x="433.20" y="255.56" width="18.20" height="18.27" fill="#ffdd00"/>
<rect x="450.80" y="255.56" width="18.20" height="18.27" fill="#ffd300"/>
<rect x="468.40" y="255.56" width="18.20" height="18.27" fill="#ffc900"/>
<rect x="486.00" y="255.56" width="18.20" height="18.27" fill="#ffbb00"/>
<rect x="503.60" y="255.56" width="18.20" height="18.27" fill="#ffad00"/>
<rect x="521.20" y="255.56" width="18.20" height="18.27" fill="#ff9c00"/>
<rect x="538.80" y="255.56" width="18.20" height="18.27" fill="#ff8b00"/>
<rect x="556.40" y="255.56" width="18.20" height="18.27" fill="#ff8500"/>
<rect x="574.00" y="255.56" width="18.20" height="18.27" fill="#ff7e00"/>
<rect x="591.60" y="255.56" width="18.20" height="18.27" fill="#ff7000"/>
<rect x="609.20" y="255.56" width="18.20" height="18.27" fill="#ff6300"/>
<rect x="626.80" y="255.56" width="18.20" height="18.27" fill="#ff5c00"/>
<rect x="644.40" y="255.56" width="18.20" height="18.27" fill="#ff5500"/>
<rect x="662.00" y="255.56" width="18.20" height="18.27" fill="#ff5500"/>
<rect x="679.60" y="255.56" width="18.20" height="18.27" fill="#ff5500"/>
<rect x="697.20" y="255.56" width="18.20" height="18.27" fill="#ff5500"/>
<rect x="714.80" y="255.56" width="18.20" height="18.27" fill="#ff5500"/>
<rect x="732.40" y="255.56" width="18.20" height="18.27" fill="#ff5500"/>
<rect x="750.00" y="255.56" width="18.20" height="18.27" fill="#ff5500"/>
<rect x="398.00" y="273.24" width="18.20" height="18.27" fill="#ffee00"/>
<rect x="415.60" y="273.24" width="18.20" height="18.27" fill="#ffee00"/>
<rect x="433.20" y="273.24" width="18.20" height="18.27" fill="#ffee00"/>
<rect x="450.80" y="273.24" width="18.20" height="18.27" fill="#ffe600"/>
<rect x="468.40" y="273.24" width="18.20" height="18.27" fill="#ffdd00"/>
<rect x="486.00" y="273.24" width="18.20" height="18.27" fill="#ffd100"/>
<rect x="503.60" y="273.24" width="18.20" height="18.27" fill="#ffc500"/>
<rect x="521.20" y="273.24" width="18.20" height="18.27" fill="#ffb900"/>
<rect x="538.80" y="273.24" width="18.20" height="18.27" fill="#ffad00"/>
<rect x="556.40" y="273.24" width="18.20" height="18.27" fill="#ffaa00"/>
<rect x="574.00" y="273.24" width="18.20" height="18.27" fill="#ffa700"/>
<rect x="591.60" y="273.24" width="18.20" height="18.27" fill="#ff9b00"/>
<rect x="609.20" y="273.24" width="18.20" height="18.27" fill="#ff8f00"/>
<rect x="626.80" y="273.24" width="18.20" height="18.27" fill="#ff8300"/>
<rect x="644.40" y="273.24" width="18.20" height="18.27" fill="#ff7700"/>
<rect x="662.00" y="273.24" width="18.20" height="18.27" fill="#ff7400"/>
<rect x="679.60" y="273.24" width="18.20" height="18.27" fill="#ff7000"/>
<rect x="697.20" y="273.24" width="18.20" height="18.27" fill="#ff7400"/>
<rect x="714.80" y="273.24" width="18.20" height="18.27" fill="#ff7700"/>
<rect x="732.40" y="273.24" width="18.20" height="18.27" fill="#ff7700"/>
<rect x="750.00" y="273.24" width="18.20" height="18.27" fill="#ff7700"/>
<rect x="398.00" y="290.91" width="18.20" height="18.27" fill="#ffff00"/>
<rect x="415.60" y="290.91" width="18.20" height="18.27" fill="#ffff00"/>
<rect x="433.20" y="290.91" width="18.20" height="18.27" fill="#ffff00"/>
<rect x="450.80" y="290.91" width="18.20" height="18.27" fill="#fff800"/>
<rect x="468.40" y="290.91" width="18.20" height="18.27" fill="#fff100"/>
<rect x="486.00" y="290.91" width="18.20" height="18.27" fill="#ffe700"/>
<rect x="503.60" y="290.91" width="18.20" height="18.27" fill="#ffdd00"/>
<rect x="521.20" y="290.91" width="18.20" height="18.27" fill="#ffd600"/>
<rect x="538.80" y="290.91" width="18.20" height="18.27" fill="#ffcf00"/>
<rect x="556.40" y="290.91" width="18.20" height="18.27" fill="#ffcf00"/>
<rect x="574.00" y="290.91" width="18.20" height="18.27" fill="#ffcf00"/>
<rect x="591.60" y="290.91" width="18.20" height="18.27" fill="#ffc500"/>
<rect x="609.20" y="290.91" width="18.20" height="18.27" fill="#ffbb00"/>
<rect x="626.80" y="290.91" width="18.20" height="18.27" fill="#ffaa00"/>
<rect x="644.40" y="290.91" width="18.20" height="18.27" fill="#ff9900"/>
<rect x="662.00" y="290.91" width="18.20" height="18.27" fill="#ff9200"/>
<rect x="679.60" y="290.91" width="18.20" height="18.27" fill="#ff8b00"/>
<rect x="697.20" y="290.91" width="18.20" height="18.27" fill="#ff9200"/>
<rect x="714.80" y="290.91" width="18.20" height="18.27" fill="#ff9900"/>
<rect x="732.40" y="290.91" width="18.20" height="18.27" fill="#ff9900"/>
<rect x="750.00" y="290.91" width="18.20" height="18.27" fill="#ff9900"/>
<rect x="398.00" y="308.59" width="18.20" height="18.27" fill="#ffff05"/>
<rect x="415.60" y="308.59" width="18.20" height="18.27" fill="#ffff05"/>
<rect x="433.20" y="308.59" width="18.20" height="18.27" fill="#ffff05"/>
<rect x="450.80" y="308.59" width="18.20" height="18.27" fill="#ffff00"/>
<rect x="468.40" y="308.59" width="18.20" height="18.27" fill="#fffc00"/>
<rect x="486.00" y="308.59" width="18.20" height="18.27" fill="#fff700"/>
<rect x="503.60" y="308.59" width="18.20" height="18.27" fill="#fff100"/>
<rect x="521.20" y="308.59" width="18.20" height="18.27" fill="#ffec00"/>
<rect x="538.80" y="308.59" width="18.20" height="18.27" fill="#ffe700"/>
<rect x="556.40" y="308.59" width="18.20" height="18.27" fill="#ffe700"/>
<rect x="574.00" y="308.59" width="18.20" height="18.27" fill="#ffe700"/>
<rect x="591.60" y="308.59" width="18.20" height="18.27" fill="#ffdf00"/>
<rect x="609.20" y="308.59" width="18.20" height="18.27" fill="#ffd600"/>
<rect x="626.80" y="308.59" width="18.20" height="18.27" fill="#ffc500"/>
<rect x="644.40" y="308.59" width="18.20" height="18.27" fill="#ffb400"/>
<rect x="662.00" y="308.59" width="18.20" height="18.27" fill="#ffac00"/>
<rect x="679.60" y="308.59" width="18.20" height="18.27" fill="#ffa300"/>
<rect x="697.20" y="308.59" width="18.20" height="18.27" fill="#ffa200"/>
<rect x="714.80" y="308.59" width="18.20" height="18.27" fill="#ffa000"/>
<rect x="732.40" y="308.59" width="18.20" height="18.27" fill="#ffa000"/>
<rect x="750.00" y="308.59" width="18.20" height="18.27" fill="#ffa000"/>
<rect x="398.00" y="326.26" width="18.20" height="18.27" fill="#ffff0a"/>
<rect x="415.60" y="326.26" width="18.20" height="18.27" fill="#ffff0a"/>
<rect x="433.20" y="326.26" width="18.20" height="18.27" fill="#ffff0a"/>
<rect x="450.80" y="326.26" width="18.20" height="18.27" fill="#ffff0a"/>
<rect x="468.40" y="326.26" width="18.20" height="18.27" fill="#ffff0a"/>
<rect x="486.00" y="326.26" width="18.20" height="18.27" fill="#ffff0a"/>
<rect x="503.60" y="326.26" width="18.20" height="18.27" fill="#ffff0a"/>
<rect x="521.20" y="326.26" width="18.20" height="18.27" fill="#ffff05"/>
<rect x="538.80" y="326.26" width="18.20" height="18.27" fill="#ffff00"/>
<rect x="556.40" y="326.26" width="18.20" height="18.27" fill="#ffff00"/>
<rect x="574.00" y="326.26" width="18.20" height="18.27" fill="#ffff00"/>
<rect x="591.60" y="326.26" width="18.20" height="18.27" fill="#fff800"/>
<rect x="609.20" y="326.26" width="18.20" height="18.27" fill="#fff100"/>
<rect x="626.80" y="326.26" width="18.20" height="18.27" fill="#ffe000"/>
<rect x="644.40" y="326.26" width="18.20" height="18.27" fill="#ffcf00"/>
<rect x="662.00" y="326.26" width="18.20" height="18.27" fill="#ffc500"/>
<rect x="679.60" y="326.26" width="18.20" height="18.27" fill="#ffbb00"/>
<rect x="697.20" y="326.26" width="18.20" height="18.27" fill="#ffb100"/>
<rect x="714.80" y="326.26" width="18.20" height="18.27" fill="#ffa700"/>
<rect x="732.40" y="326.26" width="18.20" height="18.27" fill="#ffa700"/>
<rect x="750.00" y="326.26" width="18.20" height="18.27" fill="#ffa700"/>
<rect x="398.00" y="343.94" width="18.20" height="18.27" fill="#ffff0a"/>
<rect x="415.60" y="343.94" width="18.20" height="18.27" fill="#ffff0a"/>
<rect x="433.20" y="343.94" width="18.20" height="18.27" fill="#ffff0a"/>
<rect x="450.80" y="343.94" width="18.20" height="18.27" fill="#ffff0a"/>
<rect x="468.40" y="343.94" width="18.20" height="18.27" fill="#ffff0a"/>
<rect x="486.00" y="343.94" width="18.20" height="18.27" fill="#ffff0a"/>
<rect x="503.60" y="343.94" width="18.20" height="18.27" fill="#ffff0a"/>
<rect x="521.20" y="343.94" width="18.20" height="18.27" fill="#ffff05"/>
<rect x="538.80" y="343.94" width="18.20" height="18.27" fill="#ffff00"/>
<rect x="556.40" y="343.94" width="18.20" height="18.27" fill="#ffff00"/>
<rect x="574.00" y="343.94" width="18.20" height="18.27" fill="#ffff00"/>
<rect x="591.60" y="343.94" width="18.20" height="18.27" fill="#fff800"/>
<rect x="609.20" y="343.94" width="18.20" height="18.27" fill="#fff100"/>
<rect x="626.80" y="343.94" width="18.20" height="18.27" fill="#ffe000"/>
<rect x="644.40" y="343.94" width="18.20" height="18.27" fill="#ffcf00"/>
<rect x="662.00" y="343.94" width="18.20" height="18.27" fill="#ffc500"/>
<rect x="679.60" y="343.94" width="18.20" height="18.27" fill="#ffbb00"/>
<rect x="697.20" y="343.94" width="18.20" height="18.27" fill="#ffb100"/>
<rect x="714.80" y="343.94" width="18.20" height="18.27" fill="#ffa700"/>
<rect x="732.40" y="343.94" width="18.20" height="18.27" fill="#ffa700"/>
<rect x="750.00" y="343.94" width="18.20" height="18.27" fill="#ffa700"/>
<rect x="398.00" y="361.61" width="18.20" height="18.27" fill="#ffff0a"/>
<rect x="415.60" y="361.61" width="18.20" height="18.27" fill="#ffff0a"/>
<rect x="433.20" y="361.61" width="18.20" height="18.27" fill="#ffff0a"/>
<rect x="450.80" y="361.61" width="18.20" height="18.27" fill="#ffff0a"/>
<rect x="468.40" y="361.61" width="18.20" height="18.27" fill="#ffff0a"/>
<rect x="486.00" y="361.61" width="18.20" height="18.27" fill="#ffff0a"/>
<rect x="503.60" y="361.61" width="18.20" height="18.27" fill="#ffff0a"/>
<rect x="521.20" y="361.61" width="18.20" height="18.27" fill="#ffff05"/>
<rect x="538.80" y="361.61" width="18.20" height="18.27" fill="#ffff00"/>
<rect x="556.40" y="361.61" width="18.20" height="18.27" fill="#ffff00"/>
<rect x="574.00" y="361.61" width="18.20" height="18.27" fill="#ffff00"/>
<rect x="591.60" y="361.61" width="18.20" height="18.27" fill="#fff800"/>
<rect x="609.20" y="361.61" width="18.20" height="18.27" fill="#fff100"/>
<rect x="626.80" y="361.61" width="18.20" height="18.27" fill="#ffe000"/>
<rect x="644.40" y="361.61" width="18.20" height="18.27" fill="#ffcf00"/>
<rect x="662.00" y="361.61" width="18.20" height="18.27" fill="#ffc500"/>
<rect x="679.60" y="361.61" width="18.20" height="18.27" fill="#ffbb00"/>
<rect x="697.20" y="361.61" width="18.20" height="18.27" fill="#ffb100"/>
<rect x="714.80" y="361.61" width="18.20" height="18.27" fill="#ffa700"/>
<rect x="732.40" y="361.61" width="18.20" height="18.27" fill="#ffa700"/>
<rect x="750.00" y="361.61" width="18.20" height="18.27" fill="#ffa700"/>
</g></g>
<rect x="442.30" y="317.72" width="35.20" height="17.67" fill="#666666" />
<rect x="688.70" y="300.05" width="35.20" height="35.35" fill="#666666" />
<line x1="583.20" y1="53.20" x2="583.20" y2="335.40" stroke="#14e02c" stroke-width="3.5" stroke-dasharray="8 3.45" stroke-dashoffset="2.75"/>
<rect x="442.30" y="52.60" width="281.60" height="282.80" fill="none" stroke="#262626" stroke-width="1.4"/>
<line x1="442.30" y1="335.40" x2="442.30" y2="332.40" stroke="#262626" stroke-width="1.30" />
<line x1="442.30" y1="52.60" x2="442.30" y2="55.60" stroke="#262626" stroke-width="1.30" />
<line x1="442.30" y1="52.60" x2="445.30" y2="52.60" stroke="#262626" stroke-width="1.30" />
<line x1="723.90" y1="52.60" x2="720.90" y2="52.60" stroke="#262626" stroke-width="1.30" />
<line x1="512.70" y1="335.40" x2="512.70" y2="332.40" stroke="#262626" stroke-width="1.30" />
<line x1="512.70" y1="52.60" x2="512.70" y2="55.60" stroke="#262626" stroke-width="1.30" />
<line x1="442.30" y1="123.30" x2="445.30" y2="123.30" stroke="#262626" stroke-width="1.30" />
<line x1="723.90" y1="123.30" x2="720.90" y2="123.30" stroke="#262626" stroke-width="1.30" />
<line x1="583.10" y1="335.40" x2="583.10" y2="332.40" stroke="#262626" stroke-width="1.30" />
<line x1="583.10" y1="52.60" x2="583.10" y2="55.60" stroke="#262626" stroke-width="1.30" />
<line x1="442.30" y1="194.00" x2="445.30" y2="194.00" stroke="#262626" stroke-width="1.30" />
<line x1="723.90" y1="194.00" x2="720.90" y2="194.00" stroke="#262626" stroke-width="1.30" />
<line x1="653.50" y1="335.40" x2="653.50" y2="332.40" stroke="#262626" stroke-width="1.30" />
<line x1="653.50" y1="52.60" x2="653.50" y2="55.60" stroke="#262626" stroke-width="1.30" />
<line x1="442.30" y1="264.70" x2="445.30" y2="264.70" stroke="#262626" stroke-width="1.30" />
<line x1="723.90" y1="264.70" x2="720.90" y2="264.70" stroke="#262626" stroke-width="1.30" />
<line x1="723.90" y1="335.40" x2="723.90" y2="332.40" stroke="#262626" stroke-width="1.30" />
<line x1="723.90" y1="52.60" x2="723.90" y2="55.60" stroke="#262626" stroke-width="1.30" />
<line x1="442.30" y1="335.40" x2="445.30" y2="335.40" stroke="#262626" stroke-width="1.30" />
<line x1="723.90" y1="335.40" x2="720.90" y2="335.40" stroke="#262626" stroke-width="1.30" />
<text transform="translate(59.300,359.100) scale(1,1.04)" font-family="'Liberation Sans', Arial, Helvetica, sans-serif" font-size="24.500" font-weight="normal" fill="#000" stroke="#000" stroke-width="0.45">-8</text>
<text transform="translate(129.325,359.100) scale(1,1.04)" font-family="'Liberation Sans', Arial, Helvetica, sans-serif" font-size="24.500" font-weight="normal" fill="#000" stroke="#000" stroke-width="0.45">-4</text>
<text transform="translate(205.050,359.100) scale(1,1.04)" font-family="'Liberation Sans', Arial, Helvetica, sans-serif" font-size="24.500" font-weight="normal" fill="#000" stroke="#000" stroke-width="0.45">0</text>
<text transform="translate(276.075,359.100) scale(1,1.04)" font-family="'Liberation Sans', Arial, Helvetica, sans-serif" font-size="24.500" font-weight="normal" fill="#000" stroke="#000" stroke-width="0.45">4</text>
<text transform="translate(346.100,359.100) scale(1,1.04)" font-family="'Liberation Sans', Arial, Helvetica, sans-serif" font-size="24.500" font-weight="normal" fill="#000" stroke="#000" stroke-width="0.45">8</text>
<text transform="translate(53.650,62.200) scale(1,1.04)" font-family="'Liberation Sans', Arial, Helvetica, sans-serif" font-size="24.500" font-weight="normal" fill="#000" stroke="#000" stroke-width="0.45">4</text>
<text transform="translate(53.650,132.900) scale(1,1.04)" font-family="'Liberation Sans', Arial, Helvetica, sans-serif" font-size="24.500" font-weight="normal" fill="#000" stroke="#000" stroke-width="0.45">8</text>
<text transform="translate(40.650,203.600) scale(1,1.04)" font-family="'Liberation Sans', Arial, Helvetica, sans-serif" font-size="24.500" font-weight="normal" fill="#000" stroke="#000" stroke-width="0.45">12</text>
<text transform="translate(40.650,274.300) scale(1,1.04)" font-family="'Liberation Sans', Arial, Helvetica, sans-serif" font-size="24.500" font-weight="normal" fill="#000" stroke="#000" stroke-width="0.45">16</text>
<text transform="translate(39.650,343.900) scale(1,1.04)" font-family="'Liberation Sans', Arial, Helvetica, sans-serif" font-size="24.500" font-weight="normal" fill="#000" stroke="#000" stroke-width="0.45">20</text>
<text transform="translate(120.850,385.500) scale(1,1.04)" font-family="'Liberation Sans', Arial, Helvetica, sans-serif" font-size="19.170" font-weight="normal" fill="#000" stroke="#000" stroke-width="0.45">Lateral distance [mm]</text>
<text transform="translate(430.300,359.100) scale(1,1.04)" font-family="'Liberation Sans', Arial, Helvetica, sans-serif" font-size="24.500" font-weight="normal" fill="#000" stroke="#000" stroke-width="0.45">-8</text>
<text transform="translate(500.200,359.100) scale(1,1.04)" font-family="'Liberation Sans', Arial, Helvetica, sans-serif" font-size="24.500" font-weight="normal" fill="#000" stroke="#000" stroke-width="0.45">-4</text>
<text transform="translate(575.800,359.100) scale(1,1.04)" font-family="'Liberation Sans', Arial, Helvetica, sans-serif" font-size="24.500" font-weight="normal" fill="#000" stroke="#000" stroke-width="0.45">0</text>
<text transform="translate(646.700,359.100) scale(1,1.04)" font-family="'Liberation Sans', Arial, Helvetica, sans-serif" font-size="24.500" font-weight="normal" fill="#000" stroke="#000" stroke-width="0.45">4</text>
<text transform="translate(716.600,359.100) scale(1,1.04)" font-family="'Liberation Sans', Arial, Helvetica, sans-serif" font-size="24.500" font-weight="normal" fill="#000" stroke="#000" stroke-width="0.45">8</text>
<text transform="translate(424.200,62.200) scale(1,1.04)" font-family="'Liberation Sans', Arial, Helvetica, sans-serif" font-size="24.500" font-weight="normal" fill="#000" stroke="#000" stroke-width="0.45">4</text>
<text transform="translate(424.200,132.900) scale(1,1.04)" font-family="'Liberation Sans', Arial, Helvetica, sans-serif" font-size="24.500" font-weight="normal" fill="#000" stroke="#000" stroke-width="0.45">8</text>
<text transform="translate(411.200,203.600) scale(1,1.04)" font-family="'Liberation Sans', Arial, Helvetica, sans-serif" font-size="24.500" font-weight="normal" fill="#000" stroke="#000" stroke-width="0.45">12</text>
<text transform="translate(411.200,274.300) scale(1,1.04)" font-family="'Liberation Sans', Arial, Helvetica, sans-serif" font-size="24.500" font-weight="normal" fill="#000" stroke="#000" stroke-width="0.45">16</text>
<text transform="translate(410.200,343.900) scale(1,1.04)" font-family="'Liberation Sans', Arial, Helvetica, sans-serif" font-size="24.500" font-weight="normal" fill="#000" stroke="#000" stroke-width="0.45">20</text>
<text transform="translate(495.000,382.200) scale(1,1.04)" font-family="'Liberation Sans', Arial, Helvetica, sans-serif" font-size="19.170" font-weight="normal" fill="#000" stroke="#000" stroke-width="0.45">Lateral distance [mm]</text>
<text transform="translate(126.900,44.800) scale(1,1.04)" font-family="'Liberation Sans', Arial, Helvetica, sans-serif" font-size="19.540" font-weight="bold" fill="#000" stroke="#000" stroke-width="0.30">Lateral Resolution</text>
<text transform="translate(506.300,45.800) scale(1,1.04)" font-family="'Liberation Sans', Arial, Helvetica, sans-serif" font-size="19.710" font-weight="bold" fill="#000" stroke="#000" stroke-width="0.30">Axial Resolution</text>
<text transform="translate(23.500,282.450) rotate(-90) scale(1,1.04)" font-family="'Liberation Sans', Arial, Helvetica, sans-serif" font-size="23.690" font-weight="normal" fill="#000" stroke="#000" stroke-width="0.45">Axial depth [mm]</text>
<rect x="733.20" y="52.90" width="26.60" height="282.50" fill="url(#hotg)" stroke="#262626" stroke-width="1.4"/>
<line x1="753.30" y1="335.40" x2="759.80" y2="335.40" stroke="#262626" stroke-width="1.30" />
<line x1="753.30" y1="291.94" x2="759.80" y2="291.94" stroke="#262626" stroke-width="1.30" />
<line x1="753.30" y1="248.48" x2="759.80" y2="248.48" stroke="#262626" stroke-width="1.30" />
<line x1="753.30" y1="205.02" x2="759.80" y2="205.02" stroke="#262626" stroke-width="1.30" />
<line x1="753.30" y1="161.55" x2="759.80" y2="161.55" stroke="#262626" stroke-width="1.30" />
<line x1="753.30" y1="118.09" x2="759.80" y2="118.09" stroke="#262626" stroke-width="1.30" />
<line x1="753.30" y1="74.63" x2="759.80" y2="74.63" stroke="#262626" stroke-width="1.30" />
<text transform="translate(762.600,343.500) scale(1,1.04)" font-family="'Liberation Sans', Arial, Helvetica, sans-serif" font-size="24.220" font-weight="normal" fill="#000" stroke="#000" stroke-width="0.45">0.1</text>
<text transform="translate(762.600,256.577) scale(1,1.04)" font-family="'Liberation Sans', Arial, Helvetica, sans-serif" font-size="24.220" font-weight="normal" fill="#000" stroke="#000" stroke-width="0.45">0.3</text>
<text transform="translate(762.600,169.654) scale(1,1.04)" font-family="'Liberation Sans', Arial, Helvetica, sans-serif" font-size="24.220" font-weight="normal" fill="#000" stroke="#000" stroke-width="0.45">0.5</text>
<text transform="translate(762.600,82.731) scale(1,1.04)" font-family="'Liberation Sans', Arial, Helvetica, sans-serif" font-size="24.220" font-weight="normal" fill="#000" stroke="#000" stroke-width="0.45">0.7</text>
<text transform="translate(729.800,47.700) scale(1,1.04)" font-family="'Liberation Sans', Arial, Helvetica, sans-serif" font-size="25.050" font-weight="normal" fill="#000" stroke="#000" stroke-width="0.45">[mm]</text>
<polyline points="72.60,507.79 111.19,527.06 149.78,523.21 188.36,523.21 226.95,523.21 265.54,515.50 304.13,519.35 342.72,515.50 381.31,507.79 419.89,500.09 458.48,500.09 497.07,500.09 535.66,492.38 574.25,488.53 612.84,480.82 651.42,453.85 690.01,476.97 728.60,430.73" fill="none" stroke="#0072bd" stroke-width="4.5" stroke-linejoin="miter" clip-path="url(#clipc)"/>
<polyline points="72.60,545.36 111.19,554.61 149.78,549.22 188.36,549.22 226.95,549.22 265.54,525.13 304.13,544.40 342.72,539.58 381.31,530.91 419.89,526.10 458.48,521.28 497.07,525.13 535.66,544.40 574.25,539.58 612.84,530.91 651.42,530.91 690.01,540.16 728.60,540.16" fill="none" stroke="#d95319" stroke-width="4.5" stroke-linejoin="miter" clip-path="url(#clipc)"/>
<line x1="72.60" y1="428.80" x2="72.60" y2="573.85" stroke="#1a1a1a" stroke-width="1.10" />
<line x1="72.05" y1="573.30" x2="729.15" y2="573.30" stroke="#1a1a1a" stroke-width="1.10" />
<line x1="111.19" y1="573.30" x2="111.19" y2="565.80" stroke="#262626" stroke-width="1.20" />
<text transform="translate(103.388,599.400) scale(1,1.04)" font-family="'Liberation Sans', Arial, Helvetica, sans-serif" font-size="29.000" font-weight="normal" fill="#000" stroke="#000" stroke-width="0.45">4</text>
<line x1="265.54" y1="573.30" x2="265.54" y2="565.80" stroke="#262626" stroke-width="1.20" />
<text transform="translate(257.741,599.400) scale(1,1.04)" font-family="'Liberation Sans', Arial, Helvetica, sans-serif" font-size="29.000" font-weight="normal" fill="#000" stroke="#000" stroke-width="0.45">8</text>
<line x1="419.89" y1="573.30" x2="419.89" y2="565.80" stroke="#262626" stroke-width="1.20" />
<text transform="translate(403.594,599.400) scale(1,1.04)" font-family="'Liberation Sans', Arial, Helvetica, sans-serif" font-size="29.000" font-weight="normal" fill="#000" stroke="#000" stroke-width="0.45">12</text>
<line x1="574.25" y1="573.30" x2="574.25" y2="565.80" stroke="#262626" stroke-width="1.20" />
<text transform="translate(557.947,599.400) scale(1,1.04)" font-family="'Liberation Sans', Arial, Helvetica, sans-serif" font-size="29.000" font-weight="normal" fill="#000" stroke="#000" stroke-width="0.45">16</text>
<line x1="728.60" y1="573.30" x2="728.60" y2="565.80" stroke="#262626" stroke-width="1.20" />
<text transform="translate(712.800,599.400) scale(1,1.04)" font-family="'Liberation Sans', Arial, Helvetica, sans-serif" font-size="29.000" font-weight="normal" fill="#000" stroke="#000" stroke-width="0.45">20</text>
<line x1="72.60" y1="534.77" x2="80.10" y2="534.77" stroke="#262626" stroke-width="1.20" />
<text transform="translate(28.600,545.267) scale(1,1.04)" font-family="'Liberation Sans', Arial, Helvetica, sans-serif" font-size="29.000" font-weight="normal" fill="#000" stroke="#000" stroke-width="0.45">0.2</text>
<line x1="72.60" y1="496.23" x2="80.10" y2="496.23" stroke="#262626" stroke-width="1.20" />
<text transform="translate(27.600,506.733) scale(1,1.04)" font-family="'Liberation Sans', Arial, Helvetica, sans-serif" font-size="29.000" font-weight="normal" fill="#000" stroke="#000" stroke-width="0.45">0.4</text>
<line x1="72.60" y1="457.70" x2="80.10" y2="457.70" stroke="#262626" stroke-width="1.20" />
<text transform="translate(28.600,468.200) scale(1,1.04)" font-family="'Liberation Sans', Arial, Helvetica, sans-serif" font-size="29.000" font-weight="normal" fill="#000" stroke="#000" stroke-width="0.45">0.6</text>
<text transform="translate(52.900,587.300) scale(1,1.04)" font-family="'Liberation Sans', Arial, Helvetica, sans-serif" font-size="29.000" font-weight="normal" fill="#000" stroke="#000" stroke-width="0.45">0</text>
<text transform="translate(360.800,625.300) scale(1,1.04)" font-family="'Liberation Sans', Arial, Helvetica, sans-serif" font-size="22.410" font-weight="normal" fill="#000" stroke="#000" stroke-width="0.45">Depth (mm)</text>
<text transform="translate(16.400,587.900) rotate(-90) scale(1,1.04)" font-family="'Liberation Sans', Arial, Helvetica, sans-serif" font-size="22.280" font-weight="normal" fill="#000" stroke="#000" stroke-width="0.45">Resolution (mm)</text>
<rect x="88.30" y="444.20" width="154.50" height="55.40" fill="#fff" stroke="#262626" stroke-width="1"/>
<line x1="95.00" y1="459.00" x2="154.90" y2="459.00" stroke="#0072bd" stroke-width="4.20" />
<line x1="95.00" y1="484.30" x2="154.90" y2="484.30" stroke="#d95319" stroke-width="4.20" />
<text transform="translate(159.400,467.700) scale(1,0.96)" font-family="'Liberation Sans', Arial, Helvetica, sans-serif" font-size="23.790" font-weight="normal" fill="#000" stroke="#000" stroke-width="0.45">Axial</text>
<text transform="translate(157.600,492.500) scale(1,0.96)" font-family="'Liberation Sans', Arial, Helvetica, sans-serif" font-size="25.530" font-weight="normal" fill="#000" stroke="#000" stroke-width="0.45">Lateral</text>
<text transform="translate(15.300,23.900) scale(1,0.98)" font-family="'DejaVu Sans', Verdana, sans-serif" font-size="33.000" font-weight="bold" fill="#000" stroke="#000" stroke-width="0.30">(a)</text>
<text transform="translate(378.850,23.700) scale(1,0.98)" font-family="'DejaVu Sans', Verdana, sans-serif" font-size="33.000" font-weight="bold" fill="#000" stroke="#000" stroke-width="0.30">(b)</text>
<text transform="translate(15.600,404.600) scale(1,0.98)" font-family="'DejaVu Sans', Verdana, sans-serif" font-size="33.000" font-weight="bold" fill="#000" stroke="#000" stroke-width="0.30">(c)</text>
<text transform="translate(868.650,23.900) scale(1,0.98)" font-family="'DejaVu Sans', Verdana, sans-serif" font-size="33.000" font-weight="bold" fill="#000" stroke="#000" stroke-width="0.30">(d)</text>
<text transform="translate(1295.900,23.900) scale(1,0.98)" font-family="'DejaVu Sans', Verdana, sans-serif" font-size="33.000" font-weight="bold" fill="#000" stroke="#000" stroke-width="0.30">(e)</text>
<g clip-path="url(#clipd)"><g filter="url(#hmd)">
<g>
<g clip-path="url(#scd0)"><g transform="matrix(1,0.45342,0,1,0,-445.256)"><g filter="url(#sfd0)"><use href="#envd" transform="matrix(1,-0.45342,0,1,0,445.256)"/></g></g></g>
<g clip-path="url(#scd1)"><g transform="matrix(1,0.32447,0,1,0,-326.805)"><g filter="url(#sfd1)"><use href="#envd" transform="matrix(1,-0.32447,0,1,0,326.805)"/></g></g></g>
<g clip-path="url(#scd2)"><g transform="matrix(1,0.19553,0,1,0,-202.035)"><g filter="url(#sfd2)"><use href="#envd" transform="matrix(1,-0.19553,0,1,0,202.035)"/></g></g></g>
<g clip-path="url(#scd3)"><g transform="matrix(1,0.06658,0,1,0,-70.947)"><g filter="url(#sfd3)"><use href="#envd" transform="matrix(1,-0.06658,0,1,0,70.947)"/></g></g></g>
<g clip-path="url(#scd4)"><g transform="matrix(1,-0.06237,0,1,0,66.459)"><g filter="url(#sfd4)"><use href="#envd" transform="matrix(1,0.06237,0,1,0,-66.459)"/></g></g></g>
<g clip-path="url(#scd5)"><g transform="matrix(1,-0.19132,0,1,0,210.184)"><g filter="url(#sfd5)"><use href="#envd" transform="matrix(1,0.19132,0,1,0,-210.184)"/></g></g></g>
<g clip-path="url(#scd6)"><g transform="matrix(1,-0.32026,0,1,0,360.227)"><g filter="url(#sfd6)"><use href="#envd" transform="matrix(1,0.32026,0,1,0,-360.227)"/></g></g></g>
<g clip-path="url(#scd7)"><g transform="matrix(1,-0.44921,0,1,0,516.588)"><g filter="url(#sfd7)"><use href="#envd" transform="matrix(1,0.44921,0,1,0,-516.588)"/></g></g></g>
</g><g mask="url(#band1d)">
<g clip-path="url(#scD0)"><g transform="matrix(1,0.90684,0,1,0,-890.512)"><g filter="url(#sfD0)"><use href="#envd" transform="matrix(1,-0.90684,0,1,0,890.512)"/></g></g></g>
<g clip-path="url(#scD1)"><g transform="matrix(1,0.64895,0,1,0,-653.609)"><g filter="url(#sfD1)"><use href="#envd" transform="matrix(1,-0.64895,0,1,0,653.609)"/></g></g></g>
<g clip-path="url(#scD2)"><g transform="matrix(1,0.39105,0,1,0,-404.071)"><g filter="url(#sfD2)"><use href="#envd" transform="matrix(1,-0.39105,0,1,0,404.071)"/></g></g></g>
<g clip-path="url(#scD3)"><g transform="matrix(1,0.13316,0,1,0,-141.895)"><g filter="url(#sfD3)"><use href="#envd" transform="matrix(1,-0.13316,0,1,0,141.895)"/></g></g></g>
<g clip-path="url(#scD4)"><g transform="matrix(1,-0.12474,0,1,0,132.918)"><g filter="url(#sfD4)"><use href="#envd" transform="matrix(1,0.12474,0,1,0,-132.918)"/></g></g></g>
<g clip-path="url(#scD5)"><g transform="matrix(1,-0.38263,0,1,0,420.367)"><g filter="url(#sfD5)"><use href="#envd" transform="matrix(1,0.38263,0,1,0,-420.367)"/></g></g></g>
<g clip-path="url(#scD6)"><g transform="matrix(1,-0.64053,0,1,0,720.454)"><g filter="url(#sfD6)"><use href="#envd" transform="matrix(1,0.64053,0,1,0,-720.454)"/></g></g></g>
<g clip-path="url(#scD7)"><g transform="matrix(1,-0.89842,0,1,0,1033.177)"><g filter="url(#sfD7)"><use href="#envd" transform="matrix(1,0.89842,0,1,0,-1033.177)"/></g></g></g>
</g>
<g mask="url(#midD)"><g filter="url(#fdM)"><use href="#envd"/></g></g>
<g clip-path="url(#sLd)" style="mix-blend-mode:lighten"><g transform="translate(0,52.5) skewX(18) translate(0,-52.5)"><g filter="url(#fdB)"><use href="#envdB" transform="translate(0,52.5) skewX(-18) translate(0,-52.5)"/></g></g></g>
<g clip-path="url(#sRd)" style="mix-blend-mode:lighten"><g transform="translate(0,52.5) skewX(-18) translate(0,-52.5)"><g filter="url(#fdB)"><use href="#envdB" transform="translate(0,52.5) skewX(18) translate(0,-52.5)"/></g></g></g>
<ellipse cx="1066.4" cy="57.0" rx="69.6" ry="71" fill="#000"/>
<rect x="996.8" y="52.5" width="139.2" height="6" fill="#000"/>
<ellipse cx="1063" cy="313" rx="10" ry="6" fill="#cccccc" opacity="0.7" filter="url(#bl2)"/>
<ellipse cx="1063" cy="313" rx="6.5" ry="4" fill="#f7f7f7" filter="url(#bl1)"/>
</g></g>
<rect x="870.60" y="52.50" width="390.00" height="520.70" fill="none" stroke="#262626" stroke-width="1.4"/>
<line x1="870.60" y1="52.50" x2="874.60" y2="52.50" stroke="#262626" stroke-width="1.30" />
<line x1="1260.60" y1="52.50" x2="1256.60" y2="52.50" stroke="#262626" stroke-width="1.30" />
<line x1="870.60" y1="104.57" x2="874.60" y2="104.57" stroke="#262626" stroke-width="1.30" />
<line x1="1260.60" y1="104.57" x2="1256.60" y2="104.57" stroke="#262626" stroke-width="1.30" />
<line x1="870.60" y1="156.64" x2="874.60" y2="156.64" stroke="#262626" stroke-width="1.30" />
<line x1="1260.60" y1="156.64" x2="1256.60" y2="156.64" stroke="#262626" stroke-width="1.30" />
<line x1="870.60" y1="208.71" x2="874.60" y2="208.71" stroke="#262626" stroke-width="1.30" />
<line x1="1260.60" y1="208.71" x2="1256.60" y2="208.71" stroke="#262626" stroke-width="1.30" />
<line x1="870.60" y1="260.78" x2="874.60" y2="260.78" stroke="#262626" stroke-width="1.30" />
<line x1="1260.60" y1="260.78" x2="1256.60" y2="260.78" stroke="#262626" stroke-width="1.30" />
<line x1="870.60" y1="312.85" x2="874.60" y2="312.85" stroke="#262626" stroke-width="1.30" />
<line x1="1260.60" y1="312.85" x2="1256.60" y2="312.85" stroke="#262626" stroke-width="1.30" />
<line x1="870.60" y1="364.92" x2="874.60" y2="364.92" stroke="#262626" stroke-width="1.30" />
<line x1="1260.60" y1="364.92" x2="1256.60" y2="364.92" stroke="#262626" stroke-width="1.30" />
<line x1="870.60" y1="416.99" x2="874.60" y2="416.99" stroke="#262626" stroke-width="1.30" />
<line x1="1260.60" y1="416.99" x2="1256.60" y2="416.99" stroke="#262626" stroke-width="1.30" />
<line x1="870.60" y1="469.06" x2="874.60" y2="469.06" stroke="#262626" stroke-width="1.30" />
<line x1="1260.60" y1="469.06" x2="1256.60" y2="469.06" stroke="#262626" stroke-width="1.30" />
<line x1="870.60" y1="521.13" x2="874.60" y2="521.13" stroke="#262626" stroke-width="1.30" />
<line x1="1260.60" y1="521.13" x2="1256.60" y2="521.13" stroke="#262626" stroke-width="1.30" />
<line x1="870.60" y1="573.20" x2="874.60" y2="573.20" stroke="#262626" stroke-width="1.30" />
<line x1="1260.60" y1="573.20" x2="1256.60" y2="573.20" stroke="#262626" stroke-width="1.30" />
<line x1="935.35" y1="573.20" x2="935.35" y2="569.20" stroke="#262626" stroke-width="1.30" />
<line x1="935.35" y1="52.50" x2="935.35" y2="56.50" stroke="#262626" stroke-width="1.30" />
<line x1="1065.10" y1="573.20" x2="1065.10" y2="569.20" stroke="#262626" stroke-width="1.30" />
<line x1="1065.10" y1="52.50" x2="1065.10" y2="56.50" stroke="#262626" stroke-width="1.30" />
<line x1="1194.85" y1="573.20" x2="1194.85" y2="569.20" stroke="#262626" stroke-width="1.30" />
<line x1="1194.85" y1="52.50" x2="1194.85" y2="56.50" stroke="#262626" stroke-width="1.30" />
<text transform="translate(919.600,593.950) scale(1,1.04)" font-family="'Liberation Sans', Arial, Helvetica, sans-serif" font-size="23.600" font-weight="normal" fill="#000" stroke="#000" stroke-width="0.45">-5</text>
<text transform="translate(1057.900,593.950) scale(1,1.04)" font-family="'Liberation Sans', Arial, Helvetica, sans-serif" font-size="23.600" font-weight="normal" fill="#000" stroke="#000" stroke-width="0.45">0</text>
<text transform="translate(1187.550,593.950) scale(1,1.04)" font-family="'Liberation Sans', Arial, Helvetica, sans-serif" font-size="23.600" font-weight="normal" fill="#000" stroke="#000" stroke-width="0.45">5</text>
<text transform="translate(852.000,64.000) scale(1,1.04)" font-family="'Liberation Sans', Arial, Helvetica, sans-serif" font-size="23.600" font-weight="normal" fill="#000" stroke="#000" stroke-width="0.45">0</text>
<text transform="translate(851.800,166.000) scale(1,1.04)" font-family="'Liberation Sans', Arial, Helvetica, sans-serif" font-size="23.600" font-weight="normal" fill="#000" stroke="#000" stroke-width="0.45">4</text>
<text transform="translate(852.600,269.680) scale(1,1.04)" font-family="'Liberation Sans', Arial, Helvetica, sans-serif" font-size="23.600" font-weight="normal" fill="#000" stroke="#000" stroke-width="0.45">8</text>
<text transform="translate(834.400,373.820) scale(1,1.04)" font-family="'Liberation Sans', Arial, Helvetica, sans-serif" font-size="23.600" font-weight="normal" fill="#000" stroke="#000" stroke-width="0.45">12</text>
<text transform="translate(834.000,477.960) scale(1,1.04)" font-family="'Liberation Sans', Arial, Helvetica, sans-serif" font-size="23.600" font-weight="normal" fill="#000" stroke="#000" stroke-width="0.45">16</text>
<text transform="translate(832.700,582.000) scale(1,1.04)" font-family="'Liberation Sans', Arial, Helvetica, sans-serif" font-size="23.600" font-weight="normal" fill="#000" stroke="#000" stroke-width="0.45">20</text>
<text transform="translate(950.800,618.500) scale(1,1.04)" font-family="'Liberation Sans', Arial, Helvetica, sans-serif" font-size="23.680" font-weight="normal" fill="#000" stroke="#000" stroke-width="0.45">Lateral distance [mm]</text>
<text transform="translate(830.500,400.600) rotate(-90) scale(1,1.04)" font-family="'Liberation Sans', Arial, Helvetica, sans-serif" font-size="23.820" font-weight="normal" fill="#000" stroke="#000" stroke-width="0.45">Axial depth [mm]</text>
<g clip-path="url(#clipe)"><g filter="url(#hme)">
<g>
<g clip-path="url(#sce0)"><g transform="matrix(1,0.24524,0,1,0,-338.286)"><g filter="url(#sfe0)"><use href="#enve" transform="matrix(1,-0.24524,0,1,0,338.286)"/></g></g></g>
<g clip-path="url(#sce1)"><g transform="matrix(1,0.14772,0,1,0,-207.222)"><g filter="url(#sfe1)"><use href="#enve" transform="matrix(1,-0.14772,0,1,0,207.222)"/></g></g></g>
<g clip-path="url(#sce2)"><g transform="matrix(1,0.05020,0,1,0,-71.880)"><g filter="url(#sfe2)"><use href="#enve" transform="matrix(1,-0.05020,0,1,0,71.880)"/></g></g></g>
<g clip-path="url(#sce3)"><g transform="matrix(1,-0.04731,0,1,0,67.743)"><g filter="url(#sfe3)"><use href="#enve" transform="matrix(1,0.04731,0,1,0,-67.743)"/></g></g></g>
<g clip-path="url(#sce4)"><g transform="matrix(1,-0.14483,0,1,0,211.644)"><g filter="url(#sfe4)"><use href="#enve" transform="matrix(1,0.14483,0,1,0,-211.644)"/></g></g></g>
<g clip-path="url(#sce5)"><g transform="matrix(1,-0.24235,0,1,0,359.825)"><g filter="url(#sfe5)"><use href="#enve" transform="matrix(1,0.24235,0,1,0,-359.825)"/></g></g></g>
</g><g mask="url(#band1e)">
<g clip-path="url(#scE0)"><g transform="matrix(1,0.82746,0,1,0,-1138.286)"><g filter="url(#sfE0)"><use href="#enve" transform="matrix(1,-0.82746,0,1,0,1138.286)"/></g></g></g>
<g clip-path="url(#scE1)"><g transform="matrix(1,0.59237,0,1,0,-824.910)"><g filter="url(#sfE1)"><use href="#enve" transform="matrix(1,-0.59237,0,1,0,824.910)"/></g></g></g>
<g clip-path="url(#scE2)"><g transform="matrix(1,0.35728,0,1,0,-503.795)"><g filter="url(#sfE2)"><use href="#enve" transform="matrix(1,-0.35728,0,1,0,503.795)"/></g></g></g>
<g clip-path="url(#scE3)"><g transform="matrix(1,0.12219,0,1,0,-174.943)"><g filter="url(#sfE3)"><use href="#enve" transform="matrix(1,-0.12219,0,1,0,174.943)"/></g></g></g>
<g clip-path="url(#scE4)"><g transform="matrix(1,-0.11290,0,1,0,161.646)"><g filter="url(#sfE4)"><use href="#enve" transform="matrix(1,0.11290,0,1,0,-161.646)"/></g></g></g>
<g clip-path="url(#scE5)"><g transform="matrix(1,-0.34799,0,1,0,505.972)"><g filter="url(#sfE5)"><use href="#enve" transform="matrix(1,0.34799,0,1,0,-505.972)"/></g></g></g>
<g clip-path="url(#scE6)"><g transform="matrix(1,-0.58308,0,1,0,858.036)"><g filter="url(#sfE6)"><use href="#enve" transform="matrix(1,0.58308,0,1,0,-858.036)"/></g></g></g>
<g clip-path="url(#scE7)"><g transform="matrix(1,-0.81817,0,1,0,1217.837)"><g filter="url(#sfE7)"><use href="#enve" transform="matrix(1,0.81817,0,1,0,-1217.837)"/></g></g></g>
</g>
<circle cx="1432.4" cy="52.0" r="58" fill="none" stroke="#e0e0e0" stroke-width="5.0" opacity="0.75" stroke-dasharray="24 5 12 5 7 5 20 8 17 6 14 9 25 8 15 3 6 9 12 9 8 9 23 8"/>
<circle cx="1432.4" cy="52.0" r="66" fill="none" stroke="#c2c2c2" stroke-width="1.6" opacity="0.45" stroke-dasharray="8 6 19 5 20 6 14 3 21 4 20 4 8 7 11 8 20 2 22 3 18 4 17 2"/>
<circle cx="1432.4" cy="52.0" r="76" fill="none" stroke="#bdbdbd" stroke-width="1.6" opacity="0.40" stroke-dasharray="17 9 18 5 15 2 19 5 15 6 20 9 13 3 16 6 13 7 23 2 6 8 24 8"/>
<circle cx="1432.4" cy="52.0" r="86" fill="none" stroke="#b8b8b8" stroke-width="1.6" opacity="0.40" stroke-dasharray="6 7 6 3 22 6 18 3 22 3 19 9 6 5 12 7 7 4 18 6 8 9 18 3"/>
<circle cx="1432.4" cy="52.0" r="97" fill="none" stroke="#d1d1d1" stroke-width="2.6" opacity="0.85" stroke-dasharray="12 8 17 2 24 2 23 2 6 6 17 2 8 9 21 3 16 5 15 4 14 8 23 5"/>
<circle cx="1432.4" cy="52.0" r="106" fill="none" stroke="#b2b2b2" stroke-width="1.5" opacity="0.35" stroke-dasharray="21 2 23 9 7 6 8 5 21 7 19 9 26 6 13 9 14 9 26 4 11 6 17 9"/>
<circle cx="1432.4" cy="52.0" r="117" fill="none" stroke="#b2b2b2" stroke-width="1.5" opacity="0.35" stroke-dasharray="13 4 11 5 18 4 23 8 9 7 17 9 26 2 10 7 19 3 11 8 18 8 19 2"/>
<circle cx="1432.4" cy="52.0" r="131" fill="none" stroke="#cccccc" stroke-width="2.6" opacity="0.80" stroke-dasharray="16 7 22 3 18 6 6 8 9 7 24 3 11 5 23 9 21 5 13 2 11 9 24 5"/>
<circle cx="1432.4" cy="52.0" r="142" fill="none" stroke="#adadad" stroke-width="1.5" opacity="0.30" stroke-dasharray="24 9 11 9 15 7 17 6 7 3 15 4 24 5 25 2 21 5 9 7 22 7 8 3"/>
<circle cx="1432.4" cy="52.0" r="153" fill="none" stroke="#adadad" stroke-width="1.5" opacity="0.30" stroke-dasharray="21 3 7 6 19 7 19 5 22 7 25 5 13 5 19 3 26 6 12 7 15 2 17 8"/>
<circle cx="1432.4" cy="52.0" r="166" fill="none" stroke="#c2c2c2" stroke-width="2.4" opacity="0.65" stroke-dasharray="11 8 19 2 16 2 21 7 15 5 11 2 21 3 12 8 9 2 11 6 24 5 21 4"/>
<circle cx="1432.4" cy="52.0" r="183" fill="none" stroke="#a8a8a8" stroke-width="1.5" opacity="0.25" stroke-dasharray="9 3 6 7 15 5 8 3 6 2 8 8 25 5 23 2 20 2 26 2 19 8 7 4"/>
<circle cx="1432.4" cy="52.0" r="200" fill="none" stroke="#b8b8b8" stroke-width="2.2" opacity="0.45" stroke-dasharray="7 5 6 4 25 6 6 9 11 2 20 6 20 9 13 5 26 3 15 8 17 3 20 8"/>
<circle cx="1432.4" cy="52.0" r="235" fill="none" stroke="#adadad" stroke-width="2.0" opacity="0.30" stroke-dasharray="17 2 13 3 8 2 14 4 7 3 7 9 11 4 16 8 15 9 10 3 9 7 21 9"/>
<circle cx="1432.4" cy="52.0" r="53.7" fill="#000"/>
<rect x="1428.0" y="113.4" width="12" height="3.2" rx="1" fill="#dbdbdb" filter="url(#bl05)"/>
<rect x="1428.0" y="147.4" width="12" height="3.2" rx="1" fill="#dbdbdb" filter="url(#bl05)"/>
<rect x="1427.5" y="182.4" width="12" height="3.2" rx="1" fill="#dbdbdb" filter="url(#bl05)"/>
<rect x="1427.0" y="217.4" width="12" height="3.2" rx="1" fill="#dbdbdb" filter="url(#bl05)"/>
<rect x="1424.7" y="251.4" width="12" height="3.2" rx="1" fill="#dbdbdb" filter="url(#bl05)"/>
<rect x="1423.3" y="286.4" width="12" height="3.2" rx="1" fill="#dbdbdb" filter="url(#bl05)"/>
<rect x="1419.0" y="320.4" width="12" height="3.2" rx="1" fill="#d6d6d6" filter="url(#bl05)"/>
<rect x="1417.3" y="354.4" width="12" height="3.2" rx="1" fill="#d1d1d1" filter="url(#bl05)"/>
<rect x="1415.7" y="389.4" width="12" height="3.2" rx="1" fill="#cccccc" filter="url(#bl05)"/>
<rect x="1416.0" y="424.4" width="12" height="3.2" rx="1" fill="#c2c2c2" filter="url(#bl05)"/>
<rect x="1416.0" y="458.4" width="12" height="3.2" rx="1" fill="#bdbdbd" filter="url(#bl05)"/>
<rect x="1415.0" y="494.4" width="12" height="3.2" rx="1" fill="#c2c2c2" filter="url(#bl05)"/>
<rect x="1415.0" y="527.4" width="12" height="3.2" rx="1" fill="#bdbdbd" filter="url(#bl05)"/>
<rect x="1415.0" y="562.4" width="12" height="3.2" rx="1" fill="#b8b8b8" filter="url(#bl05)"/>
</g></g>
<rect x="1301.10" y="52.30" width="261.30" height="521.10" fill="none" stroke="#262626" stroke-width="1.4"/>
<line x1="1301.10" y1="52.30" x2="1305.10" y2="52.30" stroke="#262626" stroke-width="1.30" />
<line x1="1562.40" y1="52.30" x2="1558.40" y2="52.30" stroke="#262626" stroke-width="1.30" />
<line x1="1301.10" y1="136.10" x2="1305.10" y2="136.10" stroke="#262626" stroke-width="1.30" />
<line x1="1562.40" y1="136.10" x2="1558.40" y2="136.10" stroke="#262626" stroke-width="1.30" />
<line x1="1301.10" y1="219.90" x2="1305.10" y2="219.90" stroke="#262626" stroke-width="1.30" />
<line x1="1562.40" y1="219.90" x2="1558.40" y2="219.90" stroke="#262626" stroke-width="1.30" />
<line x1="1301.10" y1="303.70" x2="1305.10" y2="303.70" stroke="#262626" stroke-width="1.30" />
<line x1="1562.40" y1="303.70" x2="1558.40" y2="303.70" stroke="#262626" stroke-width="1.30" />
<line x1="1301.10" y1="387.50" x2="1305.10" y2="387.50" stroke="#262626" stroke-width="1.30" />
<line x1="1562.40" y1="387.50" x2="1558.40" y2="387.50" stroke="#262626" stroke-width="1.30" />
<line x1="1301.10" y1="471.30" x2="1305.10" y2="471.30" stroke="#262626" stroke-width="1.30" />
<line x1="1562.40" y1="471.30" x2="1558.40" y2="471.30" stroke="#262626" stroke-width="1.30" />
<line x1="1301.10" y1="555.10" x2="1305.10" y2="555.10" stroke="#262626" stroke-width="1.30" />
<line x1="1562.40" y1="555.10" x2="1558.40" y2="555.10" stroke="#262626" stroke-width="1.30" />
<line x1="1345.35" y1="573.40" x2="1345.35" y2="569.40" stroke="#262626" stroke-width="1.30" />
<line x1="1345.35" y1="52.30" x2="1345.35" y2="56.30" stroke="#262626" stroke-width="1.30" />
<line x1="1431.60" y1="573.40" x2="1431.60" y2="569.40" stroke="#262626" stroke-width="1.30" />
<line x1="1431.60" y1="52.30" x2="1431.60" y2="56.30" stroke="#262626" stroke-width="1.30" />
<line x1="1517.85" y1="573.40" x2="1517.85" y2="569.40" stroke="#262626" stroke-width="1.30" />
<line x1="1517.85" y1="52.30" x2="1517.85" y2="56.30" stroke="#262626" stroke-width="1.30" />
<text transform="translate(1331.900,593.550) scale(1,1.04)" font-family="'Liberation Sans', Arial, Helvetica, sans-serif" font-size="23.600" font-weight="normal" fill="#000" stroke="#000" stroke-width="0.45">-5</text>
<text transform="translate(1422.800,592.350) scale(1,1.04)" font-family="'Liberation Sans', Arial, Helvetica, sans-serif" font-size="23.600" font-weight="normal" fill="#000" stroke="#000" stroke-width="0.45">0</text>
<text transform="translate(1509.900,594.000) scale(1,1.04)" font-family="'Liberation Sans', Arial, Helvetica, sans-serif" font-size="23.600" font-weight="normal" fill="#000" stroke="#000" stroke-width="0.45">5</text>
<text transform="translate(1286.800,65.800) scale(1,1.04)" font-family="'Liberation Sans', Arial, Helvetica, sans-serif" font-size="23.600" font-weight="normal" fill="#000" stroke="#000" stroke-width="0.45">0</text>
<text transform="translate(1273.800,230.300) scale(1,1.04)" font-family="'Liberation Sans', Arial, Helvetica, sans-serif" font-size="23.600" font-weight="normal" fill="#000" stroke="#000" stroke-width="0.45">10</text>
<text transform="translate(1273.800,396.500) scale(1,1.04)" font-family="'Liberation Sans', Arial, Helvetica, sans-serif" font-size="23.600" font-weight="normal" fill="#000" stroke="#000" stroke-width="0.45">20</text>
<text transform="translate(1273.800,580.900) scale(1,1.04)" font-family="'Liberation Sans', Arial, Helvetica, sans-serif" font-size="23.600" font-weight="normal" fill="#000" stroke="#000" stroke-width="0.45">30</text>
<text transform="translate(1317.700,621.900) scale(1,1.04)" font-family="'Liberation Sans', Arial, Helvetica, sans-serif" font-size="23.690" font-weight="normal" fill="#000" stroke="#000" stroke-width="0.45">Lateral distance [mm]</text>
<rect x="1575.40" y="54.20" width="26.20" height="520.10" fill="url(#hotg)" stroke="#262626" stroke-width="1.4"/>
<line x1="1596.60" y1="54.20" x2="1601.60" y2="54.20" stroke="#262626" stroke-width="1.30" />
<line x1="1596.60" y1="140.88" x2="1601.60" y2="140.88" stroke="#262626" stroke-width="1.30" />
<line x1="1596.60" y1="227.57" x2="1601.60" y2="227.57" stroke="#262626" stroke-width="1.30" />
<line x1="1596.60" y1="314.25" x2="1601.60" y2="314.25" stroke="#262626" stroke-width="1.30" />
<line x1="1596.60" y1="400.93" x2="1601.60" y2="400.93" stroke="#262626" stroke-width="1.30" />
<line x1="1596.60" y1="487.62" x2="1601.60" y2="487.62" stroke="#262626" stroke-width="1.30" />
<line x1="1596.60" y1="574.30" x2="1601.60" y2="574.30" stroke="#262626" stroke-width="1.30" />
<text transform="translate(1606.900,236.200) scale(1,1.04)" font-family="'Liberation Sans', Arial, Helvetica, sans-serif" font-size="29.650" font-weight="normal" fill="#000" stroke="#000" stroke-width="0.45">-10</text>
<text transform="translate(1606.900,410.400) scale(1,1.04)" font-family="'Liberation Sans', Arial, Helvetica, sans-serif" font-size="29.650" font-weight="normal" fill="#000" stroke="#000" stroke-width="0.45">-20</text>
<text transform="translate(1607.000,581.700) scale(1,1.04)" font-family="'Liberation Sans', Arial, Helvetica, sans-serif" font-size="29.150" font-weight="normal" fill="#000" stroke="#000" stroke-width="0.45">-30</text>
<text transform="translate(1607.600,62.500) scale(1,1.04)" font-family="'Liberation Sans', Arial, Helvetica, sans-serif" font-size="28.910" font-weight="normal" fill="#000" stroke="#000" stroke-width="0.45">0</text>
<text transform="translate(1623.700,63.000) scale(1,1.04)" font-family="'Liberation Sans', Arial, Helvetica, sans-serif" font-size="24.600" font-weight="normal" fill="#000" stroke="#000" stroke-width="0.45">dB</text></svg>
</body></html>
